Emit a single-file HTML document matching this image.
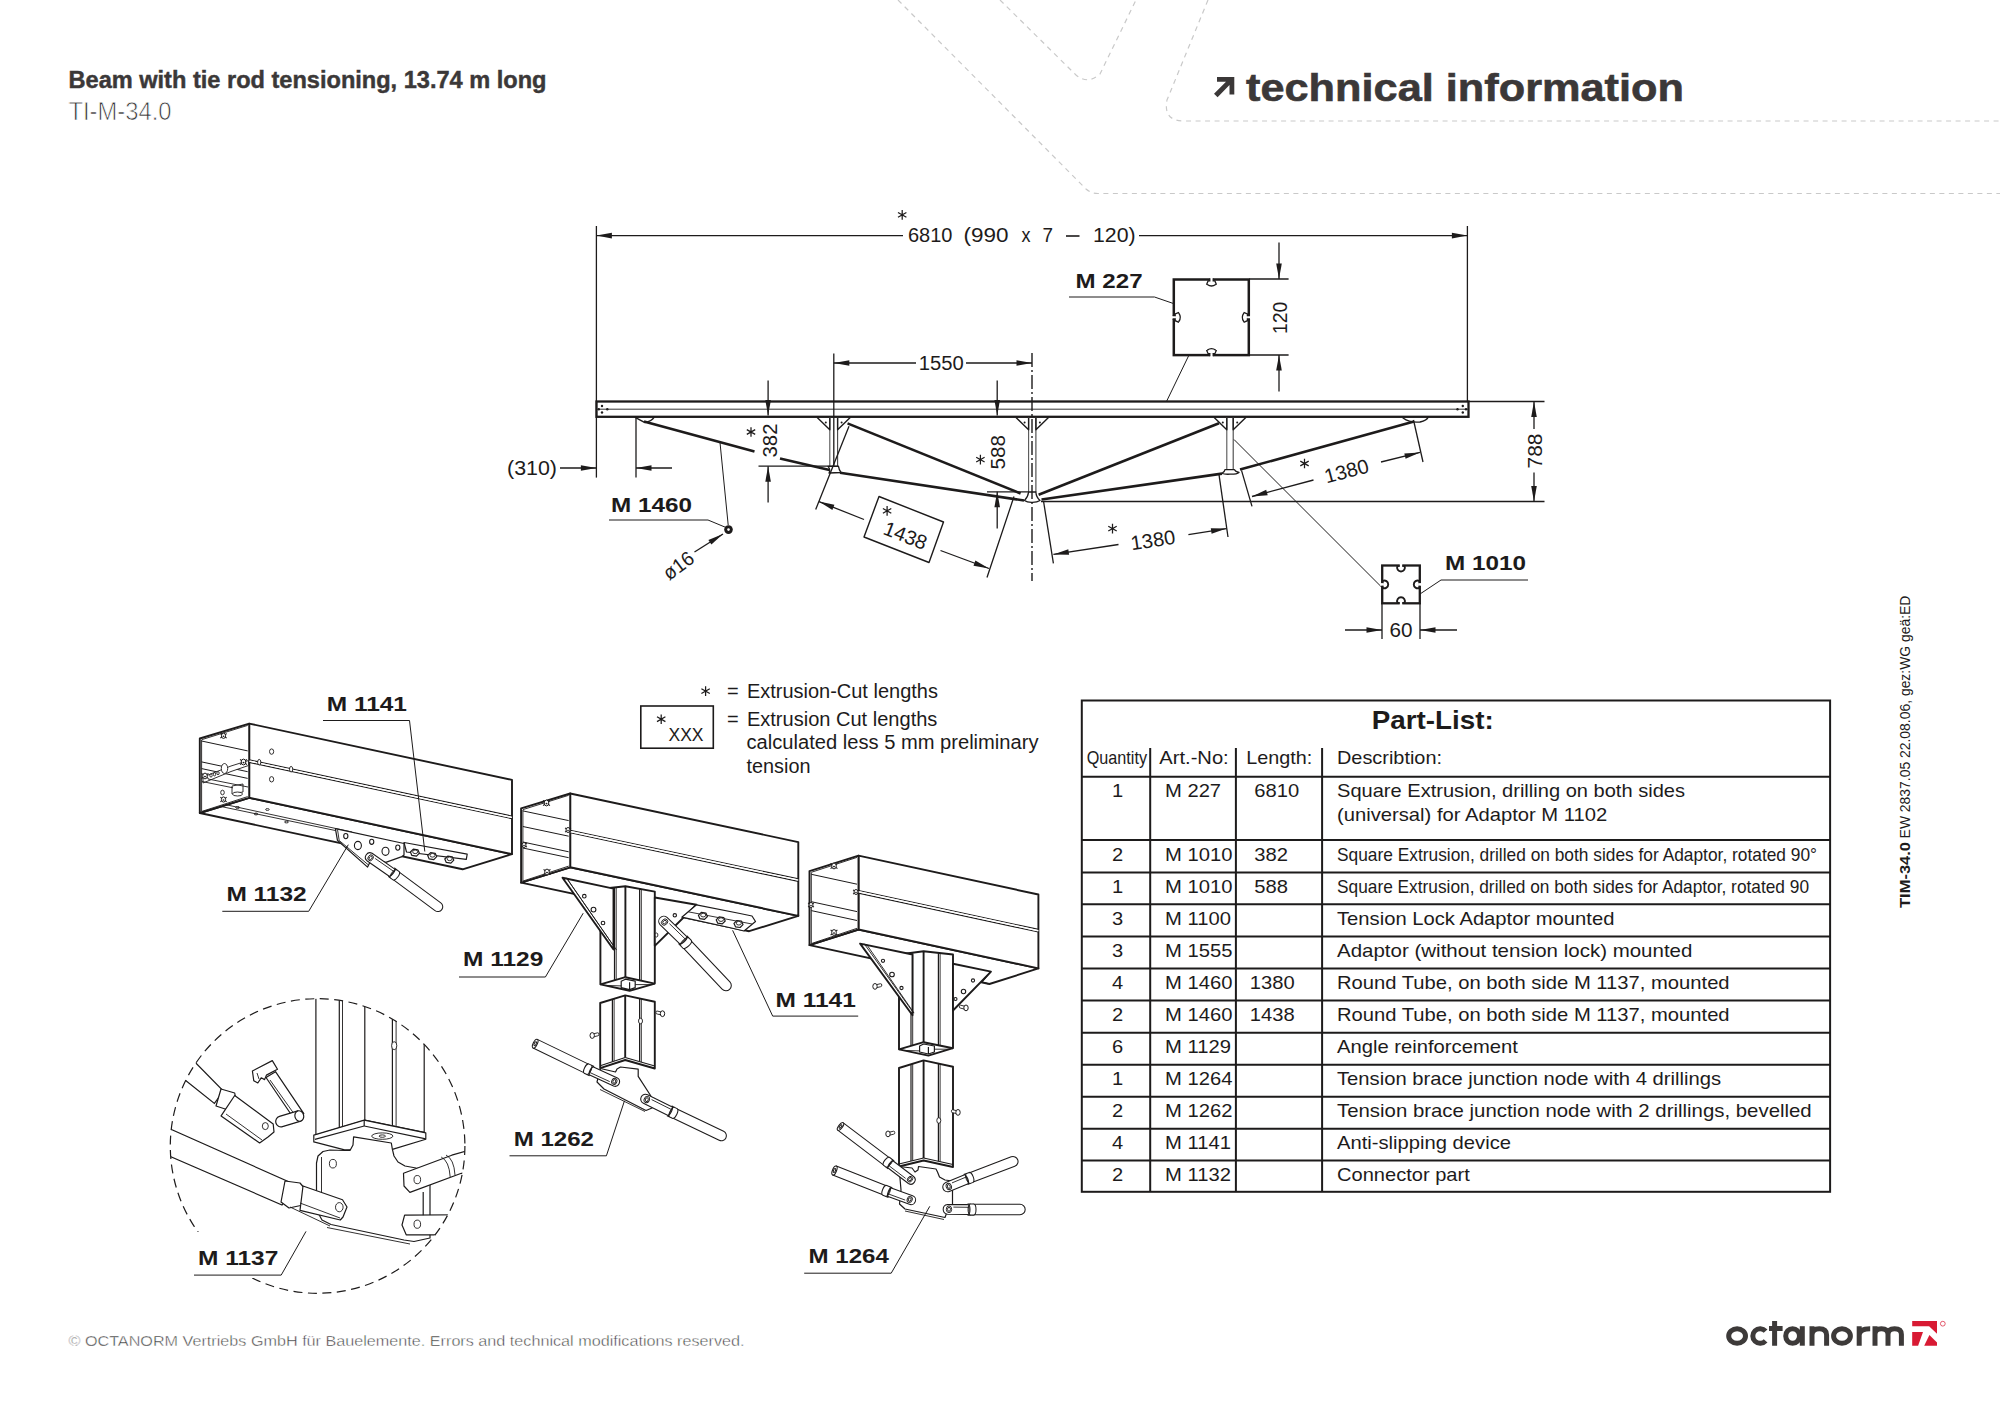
<!DOCTYPE html>
<html><head><meta charset="utf-8"><title>Beam with tie rod tensioning</title>
<style>
html,body{margin:0;padding:0;background:#fff;}
body{width:2000px;height:1413px;overflow:hidden;position:relative;font-family:"Liberation Sans",sans-serif;}
svg{position:absolute;left:0;top:0;}
</style></head>
<body>
<svg width="2000" height="1413" viewBox="0 0 2000 1413" font-family="Liberation Sans, sans-serif">
<!-- background dashed guide lines -->
<g fill="none" stroke="#c9c9c9" stroke-width="1.2" stroke-dasharray="5 4.5">
<path d="M898 0 L1086 189 Q1091 193.5 1098 193.5 L2000 193.5"/>
<path d="M1000 0 L1076 75 Q1088 85 1100 74 L1136 0"/>
<path d="M1208 0 L1167 100 Q1163 121 1184 121 L2000 121"/>
</g>
<!-- header -->
<g fill="#3b3838">
<text x="68.5" y="87.5" font-size="24" font-weight="bold" stroke="#3b3838" stroke-width="0.45" textLength="478" lengthAdjust="spacingAndGlyphs">Beam with tie rod tensioning, 13.74 m long</text>
</g>
<text x="68.5" y="120" font-size="25" fill="#333" stroke="#fff" stroke-width="0.75" textLength="103" lengthAdjust="spacingAndGlyphs">TI-M-34.0</text>
<g fill="#3b3838">
<text x="1246" y="100.5" font-size="39" font-weight="bold" stroke="#3b3838" stroke-width="0.6" textLength="438" lengthAdjust="spacingAndGlyphs">technical information</text>
<path d="M1217 77 L1234.3 77 L1234.3 94.5 L1229.5 94.5 L1229.5 85 L1217.6 97.3 L1214 93.8 L1226 81.8 L1217 81.8 Z"/>
</g>
<!-- footer -->
<text x="68.5" y="1345.8" font-size="15.5" fill="#3a3a3a" stroke="#fff" stroke-width="0.45" textLength="676" lengthAdjust="spacingAndGlyphs">© OCTANORM Vertriebs GmbH für Bauelemente. Errors and technical modifications reserved.</text>
<!-- logo -->
<g fill="none" stroke="#3d3a39" stroke-width="5">
<ellipse cx="1737.1" cy="1336" rx="8.4" ry="7.3"/>
<path d="M1765.6 1331.2 A7.3 7.3 0 1 0 1765.6 1340.8"/>
<path d="M1774.6 1321 V1345.7 M1769 1328.6 H1782.6"/>
<ellipse cx="1792.6" cy="1336" rx="6.9" ry="7.3"/>
<path d="M1802.3 1326.2 V1345.7"/>
<path d="M1812 1326.2 V1345.7 M1812 1335 Q1812 1328.7 1819.3 1328.7 Q1826.6 1328.7 1826.6 1335 V1345.7"/>
<ellipse cx="1842" cy="1336" rx="8.4" ry="7.3"/>
<path d="M1859.2 1326.2 V1345.7 M1859.2 1335 Q1859.5 1328.7 1870.2 1328.7"/>
<path d="M1875 1326.2 V1345.7 M1875 1334.5 Q1875 1328.7 1881.4 1328.7 Q1888 1328.7 1888 1334.5 V1345.7 M1888 1334.5 Q1888 1328.7 1894.6 1328.7 Q1901.4 1328.7 1901.4 1334.5 V1345.7"/>
</g>
<g fill="#d81a33">
<path d="M1912.2 1321 L1937 1321 L1937 1333.8 L1929.1 1326.2 L1912.2 1326.2 Z"/>
<path d="M1912.2 1332.1 L1923 1332.1 L1918.1 1345.7 L1912.2 1345.7 Z"/>
<path d="M1929.4 1335.1 L1937 1342.4 L1937 1345.7 L1924.2 1345.7 Z"/>
<circle cx="1942.8" cy="1323.7" r="2.4" fill="none" stroke="#d81a33" stroke-width="0.7"/>
</g>
<line x1="596.4" y1="226.0" x2="596.4" y2="477.6" stroke="#1d1b1b" stroke-width="1.3" />
<line x1="1467.4" y1="226.0" x2="1467.4" y2="401.5" stroke="#1d1b1b" stroke-width="1.3" />
<line x1="903.0" y1="235.6" x2="596.4" y2="235.6" stroke="#1d1b1b" stroke-width="1.3" />
<path d="M596.4 235.6 L611.9 232.8 L611.9 238.4 Z" fill="#1d1b1b"/>
<line x1="1139.0" y1="235.6" x2="1467.4" y2="235.6" stroke="#1d1b1b" stroke-width="1.3" />
<path d="M1467.4 235.6 L1451.9 238.4 L1451.9 232.8 Z" fill="#1d1b1b"/>
<text x="907.9" y="242.0" font-size="20" text-anchor="start" textLength="44.5" lengthAdjust="spacingAndGlyphs" fill="#1d1b1b" >6810</text>
<text x="963.6" y="242.0" font-size="20" text-anchor="start" textLength="45.0" lengthAdjust="spacingAndGlyphs" fill="#1d1b1b" >(990</text>
<text x="1021.5" y="242.0" font-size="20" text-anchor="start" textLength="9.0" lengthAdjust="spacingAndGlyphs" fill="#1d1b1b" >x</text>
<text x="1042.5" y="242.0" font-size="20" text-anchor="start" textLength="10.5" lengthAdjust="spacingAndGlyphs" fill="#1d1b1b" >7</text>
<line x1="1066.0" y1="236.0" x2="1079.5" y2="236.0" stroke="#1d1b1b" stroke-width="1.6" />
<text x="1093.0" y="242.0" font-size="20" text-anchor="start" textLength="42.6" lengthAdjust="spacingAndGlyphs" fill="#1d1b1b" >120)</text>
<path d="M902.2 210.1 V219.7 M898.0 212.5 L906.4 217.3 M898.0 217.3 L906.4 212.5" stroke="#1d1b1b" stroke-width="1.25" fill="none"/>
<rect x="596.5" y="401.5" width="872" height="15.3" fill="none" stroke="#1d1b1b" stroke-width="2.3"/>
<line x1="597.0" y1="409.2" x2="1468.0" y2="409.2" stroke="#333" stroke-width="1.0" />
<circle cx="602" cy="406" r="1.2" fill="#1d1b1b"/>
<circle cx="602" cy="412.5" r="1.2" fill="#1d1b1b"/>
<circle cx="598.8" cy="409.2" r="1.2" fill="#1d1b1b"/>
<circle cx="607.3" cy="409.2" r="1.2" fill="#1d1b1b"/>
<circle cx="1462.8" cy="406" r="1.2" fill="#1d1b1b"/>
<circle cx="1462.8" cy="412.5" r="1.2" fill="#1d1b1b"/>
<circle cx="1466" cy="409.2" r="1.2" fill="#1d1b1b"/>
<circle cx="1457.5" cy="409.2" r="1.2" fill="#1d1b1b"/>
<line x1="829.8" y1="417.0" x2="829.8" y2="466.0" stroke="#555" stroke-width="1.1" />
<line x1="837.6" y1="417.0" x2="837.6" y2="466.0" stroke="#444" stroke-width="1.1" />
<path d="M817.2 417.5 L829.8 429.8 L829.8 417.5" fill="none" stroke="#1d1b1b" stroke-width="1.4" stroke-linejoin="round" />
<path d="M850.2 417.5 L837.6 429.8 L837.6 417.5" fill="none" stroke="#1d1b1b" stroke-width="1.4" stroke-linejoin="round" />
<circle cx="825.8" cy="422.5" r="1" fill="#1d1b1b"/>
<circle cx="841.6" cy="422.5" r="1" fill="#1d1b1b"/>
<line x1="1028.6" y1="417.0" x2="1028.6" y2="492.0" stroke="#555" stroke-width="1.1" />
<line x1="1035.9" y1="417.0" x2="1035.9" y2="492.0" stroke="#444" stroke-width="1.1" />
<path d="M1016.0 417.5 L1028.6 429.8 L1028.6 417.5" fill="none" stroke="#1d1b1b" stroke-width="1.4" stroke-linejoin="round" />
<path d="M1048.5 417.5 L1035.9 429.8 L1035.9 417.5" fill="none" stroke="#1d1b1b" stroke-width="1.4" stroke-linejoin="round" />
<circle cx="1024.6" cy="422.5" r="1" fill="#1d1b1b"/>
<circle cx="1039.9" cy="422.5" r="1" fill="#1d1b1b"/>
<line x1="1226.8" y1="417.0" x2="1226.8" y2="469.5" stroke="#555" stroke-width="1.1" />
<line x1="1233.2" y1="417.0" x2="1233.2" y2="469.5" stroke="#444" stroke-width="1.1" />
<path d="M1214.2 417.5 L1226.8 429.8 L1226.8 417.5" fill="none" stroke="#1d1b1b" stroke-width="1.4" stroke-linejoin="round" />
<path d="M1245.8 417.5 L1233.2 429.8 L1233.2 417.5" fill="none" stroke="#1d1b1b" stroke-width="1.4" stroke-linejoin="round" />
<circle cx="1222.8" cy="422.5" r="1" fill="#1d1b1b"/>
<circle cx="1237.2" cy="422.5" r="1" fill="#1d1b1b"/>
<line x1="833.8" y1="353.5" x2="833.8" y2="466.0" stroke="#1d1b1b" stroke-width="1.3" />
<line x1="1032" y1="353" x2="1032" y2="581" stroke="#1d1b1b" stroke-width="1.4" stroke-dasharray="14 3 2 3"/>
<line x1="916.0" y1="363.0" x2="833.8" y2="363.0" stroke="#1d1b1b" stroke-width="1.3" />
<path d="M833.8 363.0 L849.3 360.2 L849.3 365.8 Z" fill="#1d1b1b"/>
<line x1="966.0" y1="363.0" x2="1032.0" y2="363.0" stroke="#1d1b1b" stroke-width="1.3" />
<path d="M1032.0 363.0 L1016.5 365.8 L1016.5 360.2 Z" fill="#1d1b1b"/>
<text x="941.2" y="370.0" font-size="20" text-anchor="middle" textLength="45.0" lengthAdjust="spacingAndGlyphs" fill="#1d1b1b" >1550</text>
<line x1="644.0" y1="421.5" x2="754.5" y2="451.6" stroke="#1d1b1b" stroke-width="2.6" />
<line x1="780.0" y1="458.6" x2="829.5" y2="470.0" stroke="#1d1b1b" stroke-width="2.6" />
<line x1="847.5" y1="423.4" x2="1020.6" y2="493.5" stroke="#1d1b1b" stroke-width="2.6" />
<line x1="840.0" y1="472.8" x2="1024.0" y2="500.5" stroke="#1d1b1b" stroke-width="2.6" />
<line x1="1038.6" y1="494.8" x2="1219.0" y2="423.3" stroke="#1d1b1b" stroke-width="2.6" />
<line x1="1041.5" y1="499.5" x2="1222.0" y2="473.6" stroke="#1d1b1b" stroke-width="2.6" />
<line x1="1240.0" y1="469.6" x2="1414.0" y2="421.6" stroke="#1d1b1b" stroke-width="2.6" />
<path d="M635.3 417.3 Q640 420 645 422.6 Q652 421 654 417.4" fill="none" stroke="#1d1b1b" stroke-width="1.4" stroke-linejoin="round" stroke-linecap="round" />
<line x1="636.0" y1="417.0" x2="636.0" y2="477.6" stroke="#1d1b1b" stroke-width="1.3" />
<path d="M1403 418 Q1410 423 1420 422 Q1427 420 1428 417.4" fill="none" stroke="#1d1b1b" stroke-width="1.4" stroke-linejoin="round" stroke-linecap="round" />
<path d="M828 466.3 L838.5 466.3 Q839 470 841 472.5 L829 473 Q831 470 828 466.3 Z" fill="none" stroke="#1d1b1b" stroke-width="1.3" stroke-linejoin="round" stroke-linecap="round" />
<path d="M1028.6 492 L1035.9 492 Q1036 497 1040 500.5 Q1037 502.5 1032 502.4 Q1027 502.5 1024.5 500.5 Q1028 497 1028.6 492 Z" fill="none" stroke="#1d1b1b" stroke-width="1.3" stroke-linejoin="round" stroke-linecap="round" />
<path d="M1225 469.6 L1234.5 469.6 Q1235 471.5 1239 472.5 Q1237 474.3 1230 474.2 Q1224 474.5 1222 473.3 Q1225 471.5 1225 469.6 Z" fill="none" stroke="#1d1b1b" stroke-width="1.3" stroke-linejoin="round" stroke-linecap="round" />
<line x1="768.1" y1="380.6" x2="768.1" y2="415.5" stroke="#1d1b1b" stroke-width="1.3" />
<path d="M768.1 415.5 L765.3 400.0 L770.9 400.0 Z" fill="#1d1b1b"/>
<line x1="758.5" y1="466.2" x2="838.5" y2="466.2" stroke="#1d1b1b" stroke-width="1.3" />
<line x1="768.1" y1="502.5" x2="768.1" y2="466.2" stroke="#1d1b1b" stroke-width="1.3" />
<path d="M768.1 466.2 L770.9 481.7 L765.3 481.7 Z" fill="#1d1b1b"/>
<text x="777.0" y="440.5" font-size="20" text-anchor="middle" textLength="34.0" lengthAdjust="spacingAndGlyphs" transform="rotate(-90.00 777.0 440.5)" fill="#1d1b1b" >382</text>
<path d="M751.0 427.2 V436.8 M746.8 429.6 L755.2 434.4 M746.8 434.4 L755.2 429.6" stroke="#1d1b1b" stroke-width="1.25" fill="none"/>
<line x1="997.2" y1="380.6" x2="997.2" y2="415.5" stroke="#1d1b1b" stroke-width="1.3" />
<path d="M997.2 415.5 L994.4 400.0 L1000.0 400.0 Z" fill="#1d1b1b"/>
<line x1="987.0" y1="491.8" x2="1028.6" y2="491.8" stroke="#1d1b1b" stroke-width="1.3" />
<line x1="997.2" y1="528.5" x2="997.2" y2="491.8" stroke="#1d1b1b" stroke-width="1.3" />
<path d="M997.2 491.8 L1000.0 507.3 L994.4 507.3 Z" fill="#1d1b1b"/>
<text x="1005.0" y="452.3" font-size="20" text-anchor="middle" textLength="34.5" lengthAdjust="spacingAndGlyphs" transform="rotate(-90.00 1005.0 452.3)" fill="#1d1b1b" >588</text>
<path d="M980.4 454.8 V464.4 M976.2 457.2 L984.6 462.0 M976.2 462.0 L984.6 457.2" stroke="#1d1b1b" stroke-width="1.25" fill="none"/>
<line x1="1468.0" y1="401.5" x2="1544.5" y2="401.5" stroke="#1d1b1b" stroke-width="1.3" />
<line x1="1041.0" y1="501.5" x2="1544.5" y2="501.5" stroke="#1d1b1b" stroke-width="1.3" />
<line x1="1534.0" y1="429.0" x2="1534.0" y2="401.5" stroke="#1d1b1b" stroke-width="1.3" />
<path d="M1534.0 401.5 L1536.8 417.0 L1531.2 417.0 Z" fill="#1d1b1b"/>
<line x1="1534.0" y1="472.5" x2="1534.0" y2="501.5" stroke="#1d1b1b" stroke-width="1.3" />
<path d="M1534.0 501.5 L1531.2 486.0 L1536.8 486.0 Z" fill="#1d1b1b"/>
<text x="1542.4" y="451.0" font-size="20" text-anchor="middle" textLength="35.0" lengthAdjust="spacingAndGlyphs" transform="rotate(-90.00 1542.4 451.0)" fill="#1d1b1b" >788</text>
<line x1="560.0" y1="468.0" x2="596.4" y2="468.0" stroke="#1d1b1b" stroke-width="1.3" />
<path d="M596.4 468.0 L580.9 470.8 L580.9 465.2 Z" fill="#1d1b1b"/>
<line x1="672.0" y1="468.0" x2="636.0" y2="468.0" stroke="#1d1b1b" stroke-width="1.3" />
<path d="M636.0 468.0 L651.5 465.2 L651.5 470.8 Z" fill="#1d1b1b"/>
<text x="557.0" y="474.5" font-size="20" text-anchor="end" textLength="50.0" lengthAdjust="spacingAndGlyphs" fill="#1d1b1b" >(310)</text>
<rect x="1173.8" y="279.5" width="75" height="75.6" fill="none" stroke="#1d1b1b" stroke-width="2.5"/>
<g transform="translate(1211.5 279.5) rotate(0)"><rect x="-1.7" y="-2" width="3.4" height="3.6" fill="#fff"/><path d="M-1.7 -1.2 V1.4 H-3.4 L-5 5.2 M1.7 -1.2 V1.4 H3.4 L5 5.2 M-4.2 5 Q0 8 4.2 5" fill="none" stroke="#1d1b1b" stroke-width="1.3"/></g>
<g transform="translate(1211.5 355.1) rotate(180)"><rect x="-1.7" y="-2" width="3.4" height="3.6" fill="#fff"/><path d="M-1.7 -1.2 V1.4 H-3.4 L-5 5.2 M1.7 -1.2 V1.4 H3.4 L5 5.2 M-4.2 5 Q0 8 4.2 5" fill="none" stroke="#1d1b1b" stroke-width="1.3"/></g>
<g transform="translate(1173.8 317.3) rotate(-90)"><rect x="-1.7" y="-2" width="3.4" height="3.6" fill="#fff"/><path d="M-1.7 -1.2 V1.4 H-3.4 L-5 5.2 M1.7 -1.2 V1.4 H3.4 L5 5.2 M-4.2 5 Q0 8 4.2 5" fill="none" stroke="#1d1b1b" stroke-width="1.3"/></g>
<g transform="translate(1248.8 317.3) rotate(90)"><rect x="-1.7" y="-2" width="3.4" height="3.6" fill="#fff"/><path d="M-1.7 -1.2 V1.4 H-3.4 L-5 5.2 M1.7 -1.2 V1.4 H3.4 L5 5.2 M-4.2 5 Q0 8 4.2 5" fill="none" stroke="#1d1b1b" stroke-width="1.3"/></g>
<text x="1075.6" y="287.5" font-size="21" font-weight="bold" text-anchor="start" textLength="67.0" lengthAdjust="spacingAndGlyphs" fill="#1d1b1b" >M 227</text>
<path d="M1069.0 297.0 L1154.5 297.0 L1173.4 303.5" fill="none" stroke="#1d1b1b" stroke-width="1.0" stroke-linejoin="round" />
<line x1="1189.0" y1="355.0" x2="1166.5" y2="401.5" stroke="#1d1b1b" stroke-width="1.0" />
<line x1="1249.2" y1="279.0" x2="1288.6" y2="279.0" stroke="#1d1b1b" stroke-width="1.3" />
<line x1="1249.2" y1="355.0" x2="1288.6" y2="355.0" stroke="#1d1b1b" stroke-width="1.3" />
<line x1="1279.0" y1="242.5" x2="1279.0" y2="279.0" stroke="#1d1b1b" stroke-width="1.3" />
<path d="M1279.0 279.0 L1276.2 263.5 L1281.8 263.5 Z" fill="#1d1b1b"/>
<line x1="1279.0" y1="391.6" x2="1279.0" y2="355.0" stroke="#1d1b1b" stroke-width="1.3" />
<path d="M1279.0 355.0 L1281.8 370.5 L1276.2 370.5 Z" fill="#1d1b1b"/>
<text x="1287.4" y="317.8" font-size="20" text-anchor="middle" textLength="32.5" lengthAdjust="spacingAndGlyphs" transform="rotate(-90.00 1287.4 317.8)" fill="#1d1b1b" >120</text>
<text x="611.0" y="511.5" font-size="21" font-weight="bold" text-anchor="start" textLength="81.0" lengthAdjust="spacingAndGlyphs" fill="#1d1b1b" >M 1460</text>
<path d="M609.0 520.0 L708.0 520.0 L726.0 527.5" fill="none" stroke="#1d1b1b" stroke-width="1.0" stroke-linejoin="round" />
<line x1="720.0" y1="442.5" x2="728.2" y2="525.0" stroke="#1d1b1b" stroke-width="1.0" />
<circle cx="728.5" cy="529.6" r="4.3" fill="#1d1b1b"/>
<circle cx="728.5" cy="529.6" r="1.3" fill="#fff"/>
<line x1="694.5" y1="552.0" x2="723.0" y2="534.0" stroke="#1d1b1b" stroke-width="1.3" />
<path d="M723.0 534.0 L711.4 544.6 L708.4 539.9 Z" fill="#1d1b1b"/>
<text x="682.5" y="571.0" font-size="20" text-anchor="middle" textLength="33.0" lengthAdjust="spacingAndGlyphs" transform="rotate(-37.00 682.5 571.0)" fill="#1d1b1b" >ø16</text>
<line x1="849.0" y1="426.2" x2="815.7" y2="509.5" stroke="#1d1b1b" stroke-width="1.3" />
<line x1="1014.0" y1="496.5" x2="987.0" y2="577.5" stroke="#1d1b1b" stroke-width="1.3" />
<line x1="864.0" y1="519.5" x2="819.0" y2="501.6" stroke="#1d1b1b" stroke-width="1.3" />
<path d="M819.0 501.6 L834.4 504.7 L832.4 509.9 Z" fill="#1d1b1b"/>
<line x1="940.5" y1="550.5" x2="989.0" y2="568.5" stroke="#1d1b1b" stroke-width="1.3" />
<path d="M989.0 568.5 L973.5 565.7 L975.4 560.5 Z" fill="#1d1b1b"/>
<path d="M879.0 496.5 L943.5 522.0 L929.0 562.5 L864.0 537.0 Z" fill="none" stroke="#1d1b1b" stroke-width="1.4" stroke-linejoin="round" />
<text x="902.9" y="542.0" font-size="20" text-anchor="middle" textLength="45.0" lengthAdjust="spacingAndGlyphs" transform="rotate(21.50 902.9 542.0)" fill="#1d1b1b" >1438</text>
<path d="M887.1 506.1 V515.7 M882.9 508.5 L891.3 513.3 M882.9 513.3 L891.3 508.5" stroke="#1d1b1b" stroke-width="1.25" fill="none"/>
<line x1="1043.5" y1="501.0" x2="1053.4" y2="563.4" stroke="#1d1b1b" stroke-width="1.3" />
<line x1="1219.0" y1="474.6" x2="1228.0" y2="537.0" stroke="#1d1b1b" stroke-width="1.3" />
<line x1="1118.5" y1="544.5" x2="1053.4" y2="554.4" stroke="#1d1b1b" stroke-width="1.3" />
<path d="M1053.4 554.4 L1068.3 549.3 L1069.1 554.8 Z" fill="#1d1b1b"/>
<line x1="1188.4" y1="534.6" x2="1226.5" y2="528.6" stroke="#1d1b1b" stroke-width="1.3" />
<path d="M1226.5 528.6 L1211.6 533.8 L1210.8 528.2 Z" fill="#1d1b1b"/>
<text x="1154.0" y="547.0" font-size="20" text-anchor="middle" textLength="45.0" lengthAdjust="spacingAndGlyphs" transform="rotate(-8.50 1154.0 547.0)" fill="#1d1b1b" >1380</text>
<path d="M1112.5 523.8 V533.4 M1108.3 526.2 L1116.7 531.0 M1108.3 531.0 L1116.7 526.2" stroke="#1d1b1b" stroke-width="1.25" fill="none"/>
<line x1="1241.5" y1="470.4" x2="1252.0" y2="506.4" stroke="#1d1b1b" stroke-width="1.3" />
<line x1="1413.5" y1="420.0" x2="1423.0" y2="462.0" stroke="#1d1b1b" stroke-width="1.3" />
<line x1="1313.5" y1="480.0" x2="1252.0" y2="496.5" stroke="#1d1b1b" stroke-width="1.3" />
<path d="M1252.0 496.5 L1266.2 489.8 L1267.7 495.2 Z" fill="#1d1b1b"/>
<line x1="1381.0" y1="462.0" x2="1420.0" y2="452.4" stroke="#1d1b1b" stroke-width="1.3" />
<path d="M1420.0 452.4 L1405.6 458.8 L1404.3 453.4 Z" fill="#1d1b1b"/>
<text x="1348.3" y="477.8" font-size="20" text-anchor="middle" textLength="45.0" lengthAdjust="spacingAndGlyphs" transform="rotate(-15.00 1348.3 477.8)" fill="#1d1b1b" >1380</text>
<path d="M1304.5 458.7 V468.3 M1300.3 461.1 L1308.7 465.9 M1300.3 465.9 L1308.7 461.1" stroke="#1d1b1b" stroke-width="1.25" fill="none"/>
<line x1="1234.0" y1="439.5" x2="1382.5" y2="588.0" stroke="#1d1b1b" stroke-width="1.0" />
<rect x="1382.2" y="565.5" width="37.6" height="37.8" fill="none" stroke="#1d1b1b" stroke-width="2.3"/>
<g transform="translate(1401 565.5) rotate(0)"><rect x="-1.3" y="-2" width="2.6" height="3.6" fill="#fff"/><path d="M-1.4 0.2 L-3.6 0.6 A3.9 3.9 0 1 0 3.6 0.6 L1.4 0.2" fill="none" stroke="#1d1b1b" stroke-width="1.9"/></g>
<g transform="translate(1401 603.3) rotate(180)"><rect x="-1.3" y="-2" width="2.6" height="3.6" fill="#fff"/><path d="M-1.4 0.2 L-3.6 0.6 A3.9 3.9 0 1 0 3.6 0.6 L1.4 0.2" fill="none" stroke="#1d1b1b" stroke-width="1.9"/></g>
<g transform="translate(1382.2 584.4) rotate(-90)"><rect x="-1.3" y="-2" width="2.6" height="3.6" fill="#fff"/><path d="M-1.4 0.2 L-3.6 0.6 A3.9 3.9 0 1 0 3.6 0.6 L1.4 0.2" fill="none" stroke="#1d1b1b" stroke-width="1.9"/></g>
<g transform="translate(1419.8 584.4) rotate(90)"><rect x="-1.3" y="-2" width="2.6" height="3.6" fill="#fff"/><path d="M-1.4 0.2 L-3.6 0.6 A3.9 3.9 0 1 0 3.6 0.6 L1.4 0.2" fill="none" stroke="#1d1b1b" stroke-width="1.9"/></g>
<text x="1445.0" y="570.0" font-size="21" font-weight="bold" text-anchor="start" textLength="81.0" lengthAdjust="spacingAndGlyphs" fill="#1d1b1b" >M 1010</text>
<path d="M1528.0 580.0 L1441.0 580.0 L1420.0 594.0" fill="none" stroke="#1d1b1b" stroke-width="1.0" stroke-linejoin="round" />
<line x1="1382.0" y1="603.0" x2="1382.0" y2="639.0" stroke="#1d1b1b" stroke-width="1.3" />
<line x1="1420.0" y1="603.0" x2="1420.0" y2="639.0" stroke="#1d1b1b" stroke-width="1.3" />
<line x1="1345.0" y1="630.0" x2="1382.0" y2="630.0" stroke="#1d1b1b" stroke-width="1.3" />
<path d="M1382.0 630.0 L1366.5 632.8 L1366.5 627.2 Z" fill="#1d1b1b"/>
<line x1="1457.0" y1="630.0" x2="1420.0" y2="630.0" stroke="#1d1b1b" stroke-width="1.3" />
<path d="M1420.0 630.0 L1435.5 627.2 L1435.5 632.8 Z" fill="#1d1b1b"/>
<text x="1401.0" y="637.0" font-size="20" text-anchor="middle" textLength="23.0" lengthAdjust="spacingAndGlyphs" fill="#1d1b1b" >60</text>
<path d="M705.6 686.3 V695.9 M701.4 688.7 L709.8 693.5 M701.4 693.5 L709.8 688.7" stroke="#1d1b1b" stroke-width="1.25" fill="none"/>
<text x="727.0" y="697.6" font-size="20" text-anchor="start" fill="#1d1b1b" >=</text>
<text x="746.9" y="697.6" font-size="20" text-anchor="start" textLength="191.0" lengthAdjust="spacingAndGlyphs" fill="#1d1b1b" >Extrusion-Cut lengths</text>
<rect x="640.8" y="706" width="72.5" height="42.2" fill="none" stroke="#1d1b1b" stroke-width="1.6"/>
<path d="M661.2 714.4 V724.0 M657.0 716.8 L665.4 721.6 M657.0 721.6 L665.4 716.8" stroke="#1d1b1b" stroke-width="1.25" fill="none"/>
<text x="668.5" y="741.0" font-size="19" text-anchor="start" textLength="35.0" lengthAdjust="spacingAndGlyphs" fill="#1d1b1b" >XXX</text>
<text x="727.0" y="725.7" font-size="20" text-anchor="start" fill="#1d1b1b" >=</text>
<text x="746.9" y="725.7" font-size="20" text-anchor="start" textLength="190.5" lengthAdjust="spacingAndGlyphs" fill="#1d1b1b" >Extrusion Cut lengths</text>
<text x="746.5" y="748.7" font-size="20" text-anchor="start" textLength="292.0" lengthAdjust="spacingAndGlyphs" fill="#1d1b1b" >calculated less 5 mm preliminary</text>
<text x="746.5" y="772.5" font-size="20" text-anchor="start" textLength="64.0" lengthAdjust="spacingAndGlyphs" fill="#1d1b1b" >tension</text>
<rect x="1081.8" y="700.5" width="748.3" height="491.3" fill="none" stroke="#1d1b1b" stroke-width="2.0"/>
<line x1="1081.8" y1="776.8" x2="1830.1" y2="776.8" stroke="#1d1b1b" stroke-width="2.0" />
<line x1="1081.8" y1="840.1" x2="1830.1" y2="840.1" stroke="#1d1b1b" stroke-width="2.0" />
<line x1="1081.8" y1="872.4" x2="1830.1" y2="872.4" stroke="#1d1b1b" stroke-width="2.0" />
<line x1="1081.8" y1="904.3" x2="1830.1" y2="904.3" stroke="#1d1b1b" stroke-width="2.0" />
<line x1="1081.8" y1="936.4" x2="1830.1" y2="936.4" stroke="#1d1b1b" stroke-width="2.0" />
<line x1="1081.8" y1="968.5" x2="1830.1" y2="968.5" stroke="#1d1b1b" stroke-width="2.0" />
<line x1="1081.8" y1="1000.5" x2="1830.1" y2="1000.5" stroke="#1d1b1b" stroke-width="2.0" />
<line x1="1081.8" y1="1032.8" x2="1830.1" y2="1032.8" stroke="#1d1b1b" stroke-width="2.0" />
<line x1="1081.8" y1="1064.8" x2="1830.1" y2="1064.8" stroke="#1d1b1b" stroke-width="2.0" />
<line x1="1081.8" y1="1096.7" x2="1830.1" y2="1096.7" stroke="#1d1b1b" stroke-width="2.0" />
<line x1="1081.8" y1="1128.7" x2="1830.1" y2="1128.7" stroke="#1d1b1b" stroke-width="2.0" />
<line x1="1081.8" y1="1160.6" x2="1830.1" y2="1160.6" stroke="#1d1b1b" stroke-width="2.0" />
<line x1="1150.2" y1="748.0" x2="1150.2" y2="1191.8" stroke="#1d1b1b" stroke-width="2.0" />
<line x1="1235.9" y1="748.0" x2="1235.9" y2="1191.8" stroke="#1d1b1b" stroke-width="2.0" />
<line x1="1322.1" y1="748.0" x2="1322.1" y2="1191.8" stroke="#1d1b1b" stroke-width="2.0" />
<text x="1432.8" y="729.0" font-size="25" font-weight="bold" text-anchor="middle" textLength="122.0" lengthAdjust="spacingAndGlyphs" fill="#1d1b1b" >Part-List:</text>
<text x="1086.7" y="764.1" font-size="19" text-anchor="start" textLength="60.3" lengthAdjust="spacingAndGlyphs" fill="#1d1b1b" >Quantity</text>
<text x="1159.3" y="764.1" font-size="19" text-anchor="start" textLength="69.4" lengthAdjust="spacingAndGlyphs" fill="#1d1b1b" >Art.-No:</text>
<text x="1246.3" y="764.1" font-size="19" text-anchor="start" textLength="66.0" lengthAdjust="spacingAndGlyphs" fill="#1d1b1b" >Length:</text>
<text x="1337.0" y="764.1" font-size="19" text-anchor="start" textLength="105.0" lengthAdjust="spacingAndGlyphs" fill="#1d1b1b" >Describtion:</text>
<text x="1117.5" y="797.4" font-size="19" text-anchor="middle" textLength="11.2" lengthAdjust="spacingAndGlyphs" fill="#1d1b1b" >1</text>
<text x="1165.0" y="797.4" font-size="19" text-anchor="start" textLength="56.1" lengthAdjust="spacingAndGlyphs" fill="#1d1b1b" >M 227</text>
<text x="1254.3" y="797.4" font-size="19" text-anchor="start" textLength="44.9" lengthAdjust="spacingAndGlyphs" fill="#1d1b1b" >6810</text>
<text x="1337.0" y="797.4" font-size="19" text-anchor="start" textLength="348.0" lengthAdjust="spacingAndGlyphs" fill="#1d1b1b" >Square Extrusion, drilling on both sides</text>
<text x="1117.5" y="861.0" font-size="19" text-anchor="middle" textLength="11.2" lengthAdjust="spacingAndGlyphs" fill="#1d1b1b" >2</text>
<text x="1165.0" y="861.0" font-size="19" text-anchor="start" textLength="67.4" lengthAdjust="spacingAndGlyphs" fill="#1d1b1b" >M 1010</text>
<text x="1254.3" y="861.0" font-size="19" text-anchor="start" textLength="33.7" lengthAdjust="spacingAndGlyphs" fill="#1d1b1b" >382</text>
<text x="1337.0" y="861.0" font-size="19" text-anchor="start" textLength="480.0" lengthAdjust="spacingAndGlyphs" fill="#1d1b1b" >Square Extrusion, drilled on both sides for Adaptor, rotated 90°</text>
<text x="1117.5" y="893.0" font-size="19" text-anchor="middle" textLength="11.2" lengthAdjust="spacingAndGlyphs" fill="#1d1b1b" >1</text>
<text x="1165.0" y="893.0" font-size="19" text-anchor="start" textLength="67.4" lengthAdjust="spacingAndGlyphs" fill="#1d1b1b" >M 1010</text>
<text x="1254.3" y="893.0" font-size="19" text-anchor="start" textLength="33.7" lengthAdjust="spacingAndGlyphs" fill="#1d1b1b" >588</text>
<text x="1337.0" y="893.0" font-size="19" text-anchor="start" textLength="472.0" lengthAdjust="spacingAndGlyphs" fill="#1d1b1b" >Square Extrusion, drilled on both sides for Adaptor, rotated 90</text>
<text x="1117.5" y="925.0" font-size="19" text-anchor="middle" textLength="11.2" lengthAdjust="spacingAndGlyphs" fill="#1d1b1b" >3</text>
<text x="1165.0" y="925.0" font-size="19" text-anchor="start" textLength="65.9" lengthAdjust="spacingAndGlyphs" fill="#1d1b1b" >M 1100</text>
<text x="1337.0" y="925.0" font-size="19" text-anchor="start" textLength="277.4" lengthAdjust="spacingAndGlyphs" fill="#1d1b1b" >Tension Lock Adaptor mounted</text>
<text x="1117.5" y="957.0" font-size="19" text-anchor="middle" textLength="11.2" lengthAdjust="spacingAndGlyphs" fill="#1d1b1b" >3</text>
<text x="1165.0" y="957.0" font-size="19" text-anchor="start" textLength="67.4" lengthAdjust="spacingAndGlyphs" fill="#1d1b1b" >M 1555</text>
<text x="1337.0" y="957.0" font-size="19" text-anchor="start" textLength="355.4" lengthAdjust="spacingAndGlyphs" fill="#1d1b1b" >Adaptor (without tension lock) mounted</text>
<text x="1117.5" y="989.0" font-size="19" text-anchor="middle" textLength="11.2" lengthAdjust="spacingAndGlyphs" fill="#1d1b1b" >4</text>
<text x="1165.0" y="989.0" font-size="19" text-anchor="start" textLength="67.4" lengthAdjust="spacingAndGlyphs" fill="#1d1b1b" >M 1460</text>
<text x="1249.8" y="989.0" font-size="19" text-anchor="start" textLength="44.9" lengthAdjust="spacingAndGlyphs" fill="#1d1b1b" >1380</text>
<text x="1337.0" y="989.0" font-size="19" text-anchor="start" textLength="392.6" lengthAdjust="spacingAndGlyphs" fill="#1d1b1b" >Round Tube, on both side M 1137, mounted</text>
<text x="1117.5" y="1021.0" font-size="19" text-anchor="middle" textLength="11.2" lengthAdjust="spacingAndGlyphs" fill="#1d1b1b" >2</text>
<text x="1165.0" y="1021.0" font-size="19" text-anchor="start" textLength="67.4" lengthAdjust="spacingAndGlyphs" fill="#1d1b1b" >M 1460</text>
<text x="1249.8" y="1021.0" font-size="19" text-anchor="start" textLength="44.9" lengthAdjust="spacingAndGlyphs" fill="#1d1b1b" >1438</text>
<text x="1337.0" y="1021.0" font-size="19" text-anchor="start" textLength="392.6" lengthAdjust="spacingAndGlyphs" fill="#1d1b1b" >Round Tube, on both side M 1137, mounted</text>
<text x="1117.5" y="1053.2" font-size="19" text-anchor="middle" textLength="11.2" lengthAdjust="spacingAndGlyphs" fill="#1d1b1b" >6</text>
<text x="1165.0" y="1053.2" font-size="19" text-anchor="start" textLength="65.9" lengthAdjust="spacingAndGlyphs" fill="#1d1b1b" >M 1129</text>
<text x="1337.0" y="1053.2" font-size="19" text-anchor="start" textLength="180.8" lengthAdjust="spacingAndGlyphs" fill="#1d1b1b" >Angle reinforcement</text>
<text x="1117.5" y="1085.2" font-size="19" text-anchor="middle" textLength="11.2" lengthAdjust="spacingAndGlyphs" fill="#1d1b1b" >1</text>
<text x="1165.0" y="1085.2" font-size="19" text-anchor="start" textLength="67.4" lengthAdjust="spacingAndGlyphs" fill="#1d1b1b" >M 1264</text>
<text x="1337.0" y="1085.2" font-size="19" text-anchor="start" textLength="384.0" lengthAdjust="spacingAndGlyphs" fill="#1d1b1b" >Tension brace junction node with 4 drillings</text>
<text x="1117.5" y="1117.2" font-size="19" text-anchor="middle" textLength="11.2" lengthAdjust="spacingAndGlyphs" fill="#1d1b1b" >2</text>
<text x="1165.0" y="1117.2" font-size="19" text-anchor="start" textLength="67.4" lengthAdjust="spacingAndGlyphs" fill="#1d1b1b" >M 1262</text>
<text x="1337.0" y="1117.2" font-size="19" text-anchor="start" textLength="474.7" lengthAdjust="spacingAndGlyphs" fill="#1d1b1b" >Tension brace junction node with 2 drillings, bevelled</text>
<text x="1117.5" y="1149.2" font-size="19" text-anchor="middle" textLength="11.2" lengthAdjust="spacingAndGlyphs" fill="#1d1b1b" >4</text>
<text x="1165.0" y="1149.2" font-size="19" text-anchor="start" textLength="65.9" lengthAdjust="spacingAndGlyphs" fill="#1d1b1b" >M 1141</text>
<text x="1337.0" y="1149.2" font-size="19" text-anchor="start" textLength="174.0" lengthAdjust="spacingAndGlyphs" fill="#1d1b1b" >Anti-slipping device</text>
<text x="1117.5" y="1181.2" font-size="19" text-anchor="middle" textLength="11.2" lengthAdjust="spacingAndGlyphs" fill="#1d1b1b" >2</text>
<text x="1165.0" y="1181.2" font-size="19" text-anchor="start" textLength="65.9" lengthAdjust="spacingAndGlyphs" fill="#1d1b1b" >M 1132</text>
<text x="1337.0" y="1181.2" font-size="19" text-anchor="start" textLength="132.8" lengthAdjust="spacingAndGlyphs" fill="#1d1b1b" >Connector part</text>
<text x="1337.0" y="821.1" font-size="19" text-anchor="start" textLength="270.2" lengthAdjust="spacingAndGlyphs" fill="#1d1b1b" >(universal) for Adaptor M 1102</text>
<text x="1910.0" y="908.0" font-size="15" font-weight="bold" text-anchor="start" textLength="66.0" lengthAdjust="spacingAndGlyphs" transform="rotate(-90.00 1910.0 908.0)" fill="#1d1b1b" >TIM-34.0</text>
<text x="1910.0" y="838.4" font-size="15" text-anchor="start" textLength="242.8" lengthAdjust="spacingAndGlyphs" transform="rotate(-90.00 1910.0 838.4)" fill="#1d1b1b" >EW 2837.05 22.08.06, gez:WG geä:ED</text>
<path d="M199.8 813.0 L249.2 797.8 L512.0 854.1 L462.6 869.3 Z" fill="#fff" stroke="#1d1b1b" stroke-width="1.9" stroke-linejoin="round" />
<path d="M249.2 723.6 L512.0 779.9 L512.0 854.1 L249.2 797.8 Z" fill="#fff" stroke="#1d1b1b" stroke-width="1.9" stroke-linejoin="round" />
<path d="M199.8 738.5 L249.2 723.6 L249.2 797.8 L199.8 813.0 Z" fill="#fff" stroke="#1d1b1b" stroke-width="1.9" stroke-linejoin="round" />
<line x1="201.6" y1="739.7" x2="247.7" y2="725.4" stroke="#1d1b1b" stroke-width="0.9" />
<line x1="201.6" y1="811.5" x2="247.7" y2="796.6" stroke="#1d1b1b" stroke-width="0.9" />
<line x1="201.6" y1="740.0" x2="201.6" y2="811.5" stroke="#1d1b1b" stroke-width="0.9" />
<line x1="249.2" y1="759.8" x2="512.0" y2="816.1" stroke="#1d1b1b" stroke-width="1.1" />
<line x1="249.2" y1="762.4" x2="512.0" y2="818.7" stroke="#1d1b1b" stroke-width="1.1" />
<line x1="249.2" y1="761.1" x2="512.0" y2="817.4" stroke="#fff" stroke-width="1.4"/>
<line x1="201.6" y1="741.0" x2="247.7" y2="750.9" stroke="#1d1b1b" stroke-width="1.0" />
<line x1="201.6" y1="761.9" x2="247.7" y2="771.7" stroke="#1d1b1b" stroke-width="1.0" />
<line x1="201.6" y1="768.6" x2="247.7" y2="778.4" stroke="#1d1b1b" stroke-width="1.0" />
<ellipse cx="271.6" cy="751.6" rx="2.1" ry="2.7" transform="rotate(0 271.6 751.6)" fill="#fff" stroke="#1d1b1b" stroke-width="0.9"/>
<ellipse cx="271.6" cy="779.3" rx="2.1" ry="2.7" transform="rotate(0 271.6 779.3)" fill="#fff" stroke="#1d1b1b" stroke-width="0.9"/>
<ellipse cx="259.2" cy="762.2" rx="1.6" ry="2.8" transform="rotate(0 259.2 762.2)" fill="#fff" stroke="#1d1b1b" stroke-width="0.9"/>
<ellipse cx="291.1" cy="769.2" rx="1.6" ry="2.8" transform="rotate(0 291.1 769.2)" fill="#fff" stroke="#1d1b1b" stroke-width="0.9"/>
<path d="M203.0 777.0 L231.0 766.0 L248.5 760.5 L248.5 765.5 L231.0 771.5 L203.0 783.0 Z" fill="#fff" stroke="#1d1b1b" stroke-width="0.9" stroke-linejoin="round" />
<ellipse cx="224.5" cy="768.5" rx="3.2" ry="5.0" transform="rotate(0 224.5 768.5)" fill="#fff" stroke="#1d1b1b" stroke-width="0.9"/>
<ellipse cx="205.0" cy="776.0" rx="2.3" ry="2.9" fill="#fff" stroke="#1d1b1b" stroke-width="1.0"/>
<path d="M201.6 773.4 l1.4 1.2 M208.4 773.4 l-1.4 1.2 M201.6 778.6 l1.4 -1.2 M208.4 778.6 l-1.4 -1.2" stroke="#1d1b1b" stroke-width="1.1"/>
<ellipse cx="205.0" cy="776.6" rx="1.0" ry="0.8" fill="#1d1b1b"/>
<ellipse cx="243.5" cy="762.0" rx="2.3" ry="2.9" fill="#fff" stroke="#1d1b1b" stroke-width="1.0"/>
<path d="M240.1 759.4 l1.4 1.2 M246.9 759.4 l-1.4 1.2 M240.1 764.6 l1.4 -1.2 M246.9 764.6 l-1.4 -1.2" stroke="#1d1b1b" stroke-width="1.1"/>
<ellipse cx="243.5" cy="762.6" rx="1.0" ry="0.8" fill="#1d1b1b"/>
<ellipse cx="211.0" cy="775.5" rx="1.2" ry="1.6" transform="rotate(0 211.0 775.5)" fill="#fff" stroke="#1d1b1b" stroke-width="0.9"/>
<ellipse cx="214.5" cy="774.3" rx="1.2" ry="1.6" transform="rotate(0 214.5 774.3)" fill="#fff" stroke="#1d1b1b" stroke-width="0.9"/>
<ellipse cx="218.0" cy="773.1" rx="1.2" ry="1.6" transform="rotate(0 218.0 773.1)" fill="#fff" stroke="#1d1b1b" stroke-width="0.9"/>
<path d="M232.0 786.0 L243.0 784.0 L243.0 792.0 L232.0 794.0 Z" fill="#fff" stroke="#1d1b1b" stroke-width="0.9" stroke-linejoin="round" />
<ellipse cx="237.5" cy="794.0" rx="5" ry="2" transform="rotate(0 237.5 794.0)" fill="#fff" stroke="#1d1b1b" stroke-width="0.9"/>
<line x1="202.0" y1="781.5" x2="233.0" y2="787.8" stroke="#1d1b1b" stroke-width="0.9" />
<line x1="208.0" y1="779.0" x2="248.0" y2="787.0" stroke="#1d1b1b" stroke-width="0.9" />
<ellipse cx="223.5" cy="735.8" rx="2.1" ry="2.6" fill="#fff" stroke="#1d1b1b" stroke-width="1.0"/>
<path d="M220.4 733.5 l1.3 1.1 M226.6 733.5 l-1.3 1.1 M220.4 738.1 l1.3 -1.1 M226.6 738.1 l-1.3 -1.1" stroke="#1d1b1b" stroke-width="1.1"/>
<ellipse cx="223.5" cy="736.3" rx="0.9" ry="0.7" fill="#1d1b1b"/>
<ellipse cx="223.5" cy="799.5" rx="2.1" ry="2.6" fill="#fff" stroke="#1d1b1b" stroke-width="1.0"/>
<path d="M220.4 797.2 l1.3 1.1 M226.6 797.2 l-1.3 1.1 M220.4 801.8 l1.3 -1.1 M226.6 801.8 l-1.3 -1.1" stroke="#1d1b1b" stroke-width="1.1"/>
<ellipse cx="223.5" cy="800.0" rx="0.9" ry="0.7" fill="#1d1b1b"/>
<ellipse cx="222.5" cy="792.5" rx="1.8" ry="2.3" transform="rotate(0 222.5 792.5)" fill="#fff" stroke="#1d1b1b" stroke-width="0.9"/>
<ellipse cx="237.6" cy="807.5" rx="2.0" ry="0.9" transform="rotate(0 237.6 807.5)" fill="#fff" stroke="#1d1b1b" stroke-width="0.9"/>
<ellipse cx="256.0" cy="814.0" rx="1.8" ry="0.9" transform="rotate(0 256.0 814.0)" fill="#fff" stroke="#1d1b1b" stroke-width="0.9"/>
<ellipse cx="267.4" cy="809.5" rx="1.8" ry="0.9" transform="rotate(0 267.4 809.5)" fill="#fff" stroke="#1d1b1b" stroke-width="0.9"/>
<ellipse cx="286.5" cy="822.0" rx="2.0" ry="0.9" transform="rotate(0 286.5 822.0)" fill="#fff" stroke="#1d1b1b" stroke-width="0.9"/>
<line x1="221.0" y1="806.5" x2="352.0" y2="834.0" stroke="#1d1b1b" stroke-width="0.9" />
<line x1="225.0" y1="804.5" x2="352.0" y2="832.0" stroke="#1d1b1b" stroke-width="0.9" />
<path d="M404.0 842.5 L467.2 854.2 L466.3 859.3 L406.5 852.0 Z" fill="#fff" stroke="#1d1b1b" stroke-width="1.2" stroke-linejoin="round" />
<path d="M419.4 853.2 L416.5 856.1 L411.9 855.4 L410.4 852.0 L413.3 849.1 L417.9 849.8 Z" fill="#fff" stroke="#1d1b1b" stroke-width="1.2" stroke-linejoin="round" />
<ellipse cx="415.2" cy="851.8" rx="2.53" ry="1.8399999999999999" transform="rotate(0 415.2 851.8)" fill="#fff" stroke="#1d1b1b" stroke-width="0.9"/>
<path d="M436.7 856.7 L433.8 859.6 L429.2 858.9 L427.7 855.5 L430.6 852.6 L435.2 853.3 Z" fill="#fff" stroke="#1d1b1b" stroke-width="1.2" stroke-linejoin="round" />
<ellipse cx="432.5" cy="855.3" rx="2.53" ry="1.8399999999999999" transform="rotate(0 432.5 855.3)" fill="#fff" stroke="#1d1b1b" stroke-width="0.9"/>
<path d="M453.8 860.2 L450.9 863.1 L446.3 862.4 L444.8 859.0 L447.7 856.1 L452.3 856.8 Z" fill="#fff" stroke="#1d1b1b" stroke-width="1.2" stroke-linejoin="round" />
<ellipse cx="449.6" cy="858.8" rx="2.53" ry="1.8399999999999999" transform="rotate(0 449.6 858.8)" fill="#fff" stroke="#1d1b1b" stroke-width="0.9"/>
<path d="M335.4 828.7 L404.0 843.5 L404.0 855.0 L401.9 856.6 L385.8 862.4 L372.0 858.0 L367.6 867.1 L337.4 840.2 Z" fill="#fff" stroke="#1d1b1b" stroke-width="1.2" stroke-linejoin="round" />
<line x1="337.5" y1="829.5" x2="339.2" y2="840.5" stroke="#1d1b1b" stroke-width="0.9" />
<line x1="339.2" y1="840.5" x2="368.5" y2="865.0" stroke="#1d1b1b" stroke-width="0.9" />
<ellipse cx="345.8" cy="836.1" rx="2.1" ry="2.6" transform="rotate(0 345.8 836.1)" fill="#fff" stroke="#1d1b1b" stroke-width="1.1"/>
<ellipse cx="357.9" cy="845.5" rx="3.5" ry="4.1" transform="rotate(0 357.9 845.5)" fill="#fff" stroke="#1d1b1b" stroke-width="1.1"/>
<ellipse cx="371.7" cy="841.8" rx="2.1" ry="2.6" transform="rotate(0 371.7 841.8)" fill="#fff" stroke="#1d1b1b" stroke-width="1.1"/>
<ellipse cx="385.5" cy="851.3" rx="3.5" ry="4.1" transform="rotate(0 385.5 851.3)" fill="#fff" stroke="#1d1b1b" stroke-width="1.1"/>
<ellipse cx="397.8" cy="847.6" rx="2.1" ry="2.6" transform="rotate(0 397.8 847.6)" fill="#fff" stroke="#1d1b1b" stroke-width="1.1"/>
<path d="M392.9 879.3 L435.0 910.6 A4.8 4.8 0 0 0 440.8 902.8 L398.6 871.6 Z" fill="#fff" stroke="#1d1b1b" stroke-width="1.05" stroke-linejoin="round"/>
<path d="M395.1 869.4 L372.1 853.3 A4.56 4.56 0 0 0 366.9 860.7 L389.9 876.8 Z" fill="#fff" stroke="#1d1b1b" stroke-width="1.05" stroke-linejoin="round"/>
<line x1="393.7" y1="871.4" x2="375.2" y2="858.5" stroke="#1d1b1b" stroke-width="0.9" />
<ellipse cx="370.6" cy="857.8" rx="2.508" ry="3.1008" transform="rotate(36.504702863615265 370.6 857.8)" fill="#fff" stroke="#1d1b1b" stroke-width="0.9"/>
<ellipse cx="370.6" cy="857.8" rx="1.3679999999999999" ry="1.8239999999999998" transform="rotate(36.504702863615265 370.6 857.8)" fill="#fff" stroke="#1d1b1b" stroke-width="0.9"/>
<path d="M388.2 876.4 L393.0 879.9 A2.3 5.2 36.5 0 0 399.2 871.6 L394.4 868.0 A2.3 5.2 36.5 0 1 388.2 876.4 Z" fill="#fff" stroke="#1d1b1b" stroke-width="1.05"/>
<path d="M390.6 878.2 A2.3 5.2 36.5 0 1 396.8 869.8" fill="none" stroke="#1d1b1b" stroke-width="0.9"/>
<text x="326.7" y="710.6" font-size="21" font-weight="bold" text-anchor="start" textLength="80.3" lengthAdjust="spacingAndGlyphs" fill="#1d1b1b" >M 1141</text>
<path d="M323.0 720.5 L409.5 720.5 L424.8 851.5" fill="none" stroke="#1d1b1b" stroke-width="1.0" stroke-linejoin="round" />
<text x="226.4" y="901.0" font-size="21" font-weight="bold" text-anchor="start" textLength="80.3" lengthAdjust="spacingAndGlyphs" fill="#1d1b1b" >M 1132</text>
<path d="M222.3 911.3 L308.7 911.3 L348.3 844.7" fill="none" stroke="#1d1b1b" stroke-width="1.0" stroke-linejoin="round" />
<path d="M521.1 882.6 L570.2 867.3 L798.3 915.9 L749.2 931.2 Z" fill="#fff" stroke="#1d1b1b" stroke-width="1.9" stroke-linejoin="round" />
<path d="M570.2 793.5 L798.3 842.1 L798.3 915.9 L570.2 867.3 Z" fill="#fff" stroke="#1d1b1b" stroke-width="1.9" stroke-linejoin="round" />
<path d="M521.1 808.4 L570.2 793.5 L570.2 867.3 L521.1 882.6 Z" fill="#fff" stroke="#1d1b1b" stroke-width="1.9" stroke-linejoin="round" />
<line x1="522.9" y1="809.6" x2="568.7" y2="795.3" stroke="#1d1b1b" stroke-width="0.9" />
<line x1="522.9" y1="881.1" x2="568.7" y2="866.1" stroke="#1d1b1b" stroke-width="0.9" />
<line x1="522.9" y1="809.9" x2="522.9" y2="881.1" stroke="#1d1b1b" stroke-width="0.9" />
<line x1="570.2" y1="830.2" x2="798.3" y2="878.8" stroke="#1d1b1b" stroke-width="1.1" />
<line x1="570.2" y1="832.8" x2="798.3" y2="881.4" stroke="#1d1b1b" stroke-width="1.1" />
<line x1="570.2" y1="831.5" x2="798.3" y2="880.1" stroke="#fff" stroke-width="1.4"/>
<line x1="522.9" y1="810.9" x2="568.7" y2="820.6" stroke="#1d1b1b" stroke-width="1.0" />
<line x1="522.9" y1="826.5" x2="568.7" y2="836.2" stroke="#1d1b1b" stroke-width="1.0" />
<line x1="522.9" y1="842.0" x2="568.7" y2="851.8" stroke="#1d1b1b" stroke-width="1.0" />
<line x1="522.9" y1="848.0" x2="568.7" y2="857.7" stroke="#1d1b1b" stroke-width="1.0" />
<ellipse cx="546.5" cy="803.0" rx="2.3" ry="2.9" fill="#fff" stroke="#1d1b1b" stroke-width="1.0"/>
<path d="M543.1 800.4 l1.4 1.2 M549.9 800.4 l-1.4 1.2 M543.1 805.6 l1.4 -1.2 M549.9 805.6 l-1.4 -1.2" stroke="#1d1b1b" stroke-width="1.1"/>
<ellipse cx="546.5" cy="803.6" rx="1.0" ry="0.8" fill="#1d1b1b"/>
<ellipse cx="547.0" cy="872.0" rx="2.3" ry="2.9" fill="#fff" stroke="#1d1b1b" stroke-width="1.0"/>
<path d="M543.6 869.4 l1.4 1.2 M550.4 869.4 l-1.4 1.2 M543.6 874.6 l1.4 -1.2 M550.4 874.6 l-1.4 -1.2" stroke="#1d1b1b" stroke-width="1.1"/>
<ellipse cx="547.0" cy="872.6" rx="1.0" ry="0.8" fill="#1d1b1b"/>
<ellipse cx="524.0" cy="845.0" rx="2.0" ry="2.5" fill="#fff" stroke="#1d1b1b" stroke-width="1.0"/>
<path d="M521.1 842.8 l1.2 1.0 M526.9 842.8 l-1.2 1.0 M521.1 847.2 l1.2 -1.0 M526.9 847.2 l-1.2 -1.0" stroke="#1d1b1b" stroke-width="1.1"/>
<ellipse cx="524.0" cy="845.5" rx="0.8" ry="0.7" fill="#1d1b1b"/>
<ellipse cx="568.0" cy="830.0" rx="2.0" ry="2.5" fill="#fff" stroke="#1d1b1b" stroke-width="1.0"/>
<path d="M565.1 827.8 l1.2 1.0 M570.9 827.8 l-1.2 1.0 M565.1 832.2 l1.2 -1.0 M570.9 832.2 l-1.2 -1.0" stroke="#1d1b1b" stroke-width="1.1"/>
<ellipse cx="568.0" cy="830.5" rx="0.8" ry="0.7" fill="#1d1b1b"/>
<path d="M600.4 889.0 L625.4 886.2 L654.8 891.6 L654.8 983.6 L629.6 990.8 L600.4 984.4 Z" fill="#fff" stroke="#1d1b1b" stroke-width="1.9" stroke-linejoin="round" />
<line x1="625.4" y1="886.2" x2="625.4" y2="977.2" stroke="#1d1b1b" stroke-width="1.9" />
<line x1="600.4" y1="984.4" x2="625.4" y2="977.2" stroke="#1d1b1b" stroke-width="1.9" />
<line x1="625.4" y1="977.2" x2="654.8" y2="983.6" stroke="#1d1b1b" stroke-width="1.9" />
<line x1="614.5" y1="887.4" x2="614.5" y2="980.3" stroke="#1d1b1b" stroke-width="1.2" />
<line x1="616.2" y1="887.2" x2="616.2" y2="979.8" stroke="#1d1b1b" stroke-width="0.9" />
<line x1="639.6" y1="888.8" x2="639.6" y2="980.3" stroke="#1d1b1b" stroke-width="1.2" />
<line x1="641.3" y1="889.1" x2="641.3" y2="980.7" stroke="#1d1b1b" stroke-width="0.9" />
<path d="M621.2 981.2 L625.4 979.2 L635.2 981.2 L635.2 987.6 L629.6 989.6 L621.2 987.6 Z" fill="#fff" stroke="#1d1b1b" stroke-width="1.2" stroke-linejoin="round" />
<line x1="629.6" y1="982.2" x2="629.6" y2="989.6" stroke="#1d1b1b" stroke-width="1.2" />
<line x1="603.4" y1="985.4" x2="621.2" y2="985.9" stroke="#1d1b1b" stroke-width="0.9" />
<line x1="635.2" y1="984.6" x2="651.8" y2="984.6" stroke="#1d1b1b" stroke-width="0.9" />
<path d="M562.5 877.8 L613.5 888.6 L613.5 949.5 Z" fill="#fff" stroke="#1d1b1b" stroke-width="1.9" stroke-linejoin="round" />
<line x1="566.5" y1="877.8" x2="614.7" y2="947.5" stroke="#1d1b1b" stroke-width="0.9" />
<circle cx="584.3" cy="896.2" r="1.8" fill="#fff" stroke="#1d1b1b" stroke-width="1.1"/>
<circle cx="593.5" cy="909.6" r="2.4" fill="#fff" stroke="#1d1b1b" stroke-width="1.1"/>
<circle cx="603.0" cy="923.0" r="1.8" fill="#fff" stroke="#1d1b1b" stroke-width="1.1"/>
<line x1="566.8" y1="878.5" x2="616.5" y2="950.0" stroke="#1d1b1b" stroke-width="0.9" />
<path d="M654.8 897.5 L696.5 904.8 L654.8 945.9 Z" fill="#fff" stroke="#1d1b1b" stroke-width="1.9" stroke-linejoin="round" />
<circle cx="674.8" cy="915.3" r="1.7" fill="#fff" stroke="#1d1b1b" stroke-width="1.1"/>
<path d="M681.8 917.2 L696.5 904.8 L740.0 913.5 L752.0 916.0 L755.5 921.5 L744.0 931.0 L731.5 928.0 Z" fill="#fff" stroke="#1d1b1b" stroke-width="1.2" stroke-linejoin="round" />
<line x1="688.2" y1="911.8" x2="752.0" y2="924.0" stroke="#1d1b1b" stroke-width="0.9" />
<path d="M707.4 916.5 L704.5 919.4 L699.9 918.7 L698.4 915.3 L701.3 912.4 L705.9 913.1 Z" fill="#fff" stroke="#1d1b1b" stroke-width="1.2" stroke-linejoin="round" />
<ellipse cx="703.2" cy="915.1" rx="2.53" ry="1.8399999999999999" transform="rotate(0 703.2 915.1)" fill="#fff" stroke="#1d1b1b" stroke-width="0.9"/>
<path d="M725.2 921.0 L722.3 923.9 L717.7 923.2 L716.2 919.8 L719.1 916.9 L723.7 917.6 Z" fill="#fff" stroke="#1d1b1b" stroke-width="1.2" stroke-linejoin="round" />
<ellipse cx="721.0" cy="919.6" rx="2.53" ry="1.8399999999999999" transform="rotate(0 721.0 919.6)" fill="#fff" stroke="#1d1b1b" stroke-width="0.9"/>
<path d="M743.0 924.6 L740.1 927.5 L735.5 926.8 L734.0 923.4 L736.9 920.5 L741.5 921.2 Z" fill="#fff" stroke="#1d1b1b" stroke-width="1.2" stroke-linejoin="round" />
<ellipse cx="738.8" cy="923.2" rx="2.53" ry="1.8399999999999999" transform="rotate(0 738.8 923.2)" fill="#fff" stroke="#1d1b1b" stroke-width="0.9"/>
<path d="M682.7 947.3 L722.1 989.1 A5.3 5.3 0 0 0 729.9 981.9 L690.4 940.1 Z" fill="#fff" stroke="#1d1b1b" stroke-width="1.05" stroke-linejoin="round"/>
<path d="M687.3 937.2 L667.0 917.4 A5.034999999999999 5.034999999999999 0 0 0 660.0 924.6 L680.3 944.4 Z" fill="#fff" stroke="#1d1b1b" stroke-width="1.05" stroke-linejoin="round"/>
<line x1="685.4" y1="939.2" x2="669.4" y2="923.6" stroke="#1d1b1b" stroke-width="0.9" />
<ellipse cx="664.6" cy="922.1" rx="2.76925" ry="3.4238" transform="rotate(46.6478705591143 664.6 922.1)" fill="#fff" stroke="#1d1b1b" stroke-width="0.9"/>
<ellipse cx="664.6" cy="922.1" rx="1.5104999999999997" ry="2.014" transform="rotate(46.6478705591143 664.6 922.1)" fill="#fff" stroke="#1d1b1b" stroke-width="0.9"/>
<path d="M678.6 943.6 L682.7 948.0 A2.6 5.7 46.6 0 0 691.1 940.1 L686.9 935.8 A2.6 5.7 46.6 0 1 678.6 943.6 Z" fill="#fff" stroke="#1d1b1b" stroke-width="1.05"/>
<path d="M680.7 945.8 A2.6 5.7 46.6 0 1 689.0 938.0" fill="none" stroke="#1d1b1b" stroke-width="0.9"/>
<ellipse cx="656.5" cy="935.0" rx="1.4" ry="2" transform="rotate(0 656.5 935.0)" fill="#fff" stroke="#1d1b1b" stroke-width="0.9"/>
<path d="M600.2 1003.0 L625.2 995.4 L654.8 1001.8 L654.8 1068.5 L625.2 1060.0 L600.2 1068.2 Z" fill="#fff" stroke="#1d1b1b" stroke-width="1.9" stroke-linejoin="round" />
<line x1="625.2" y1="995.4" x2="625.2" y2="1057.5" stroke="#1d1b1b" stroke-width="1.9" />
<line x1="600.2" y1="1065.7" x2="625.2" y2="1057.5" stroke="#1d1b1b" stroke-width="1.2" />
<line x1="625.2" y1="1057.5" x2="654.8" y2="1066.0" stroke="#1d1b1b" stroke-width="1.2" />
<line x1="612.4" y1="999.3" x2="612.4" y2="1061.7" stroke="#1d1b1b" stroke-width="1.2" />
<line x1="614.1" y1="998.8" x2="614.1" y2="1061.1" stroke="#1d1b1b" stroke-width="0.9" />
<line x1="639.6" y1="998.5" x2="639.6" y2="1061.6" stroke="#1d1b1b" stroke-width="1.2" />
<line x1="641.3" y1="998.9" x2="641.3" y2="1062.1" stroke="#1d1b1b" stroke-width="0.9" />
<ellipse cx="640.5" cy="1021.0" rx="2.0" ry="2.8" transform="rotate(0 640.5 1021.0)" fill="#fff" stroke="#1d1b1b" stroke-width="0.9"/>
<path d="M592.2 1034.1 l5.5 -1.3 a1.2 1.5 0 0 1 0.2 3 l-5.5 1.3" fill="#fff" stroke="#1d1b1b" stroke-width="0.9"/>
<ellipse cx="592.2" cy="1035.5" rx="2.2" ry="2.9" transform="rotate(0 592.2 1035.5)" fill="#fff" stroke="#1d1b1b" stroke-width="1.0"/>
<path d="M662.5 1012.3 l-5.5 -1.3 a1.2 1.5 0 0 0 0.2 3 l5.5 1.3" fill="#fff" stroke="#1d1b1b" stroke-width="0.9"/>
<ellipse cx="662.5" cy="1013.7" rx="2.2" ry="2.9" transform="rotate(0 662.5 1013.7)" fill="#fff" stroke="#1d1b1b" stroke-width="1.0"/>
<path d="M600.5 1068.5 L615.5 1072.0 L617.0 1069.0 L620.5 1067.0 L638.2 1069.2 L638.2 1076.4 L651.2 1096.5 L652.0 1108.0 L646.0 1110.5 L604.0 1089.0 L597.0 1082.0 Z" fill="#fff" stroke="#1d1b1b" stroke-width="1.2" stroke-linejoin="round" />
<path d="M589.0 1064.4 L537.3 1039.4 L533.1 1048.0 L584.8 1073.1 Z" fill="#fff" stroke="#1d1b1b" stroke-width="1.05" stroke-linejoin="round"/>
<ellipse cx="535.2" cy="1043.7" rx="2.016" ry="4.8" transform="rotate(-154.14381239948256 535.2 1043.7)" fill="#fff" stroke="#1d1b1b" stroke-width="1.05"/>
<ellipse cx="535.2" cy="1043.7" rx="0.96" ry="2.16" transform="rotate(-154.14381239948256 535.2 1043.7)" fill="#fff" stroke="#1d1b1b" stroke-width="1.05"/>
<path d="M588.6 1074.6 L613.6 1086.1 A4.56 4.56 0 0 0 617.4 1077.9 L592.4 1066.4 Z" fill="#fff" stroke="#1d1b1b" stroke-width="1.05" stroke-linejoin="round"/>
<line x1="589.6" y1="1072.4" x2="609.7" y2="1081.6" stroke="#1d1b1b" stroke-width="0.9" />
<ellipse cx="614.3" cy="1081.4" rx="2.508" ry="3.1008" transform="rotate(-154.14381239948256 614.3 1081.4)" fill="#fff" stroke="#1d1b1b" stroke-width="0.9"/>
<ellipse cx="614.3" cy="1081.4" rx="1.3679999999999999" ry="1.8239999999999998" transform="rotate(-154.14381239948256 614.3 1081.4)" fill="#fff" stroke="#1d1b1b" stroke-width="0.9"/>
<path d="M594.1 1066.5 L588.7 1063.9 A2.3 5.2 -154.1 0 0 584.2 1073.2 L589.6 1075.8 A2.3 5.2 -154.1 0 1 594.1 1066.5 Z" fill="#fff" stroke="#1d1b1b" stroke-width="1.05"/>
<path d="M591.4 1065.2 A2.3 5.2 -154.1 0 1 586.9 1074.5" fill="none" stroke="#1d1b1b" stroke-width="0.9"/>
<path d="M672.1 1117.7 L719.2 1140.3 A5.0 5.0 0 0 0 723.6 1131.3 L676.5 1108.7 Z" fill="#fff" stroke="#1d1b1b" stroke-width="1.05" stroke-linejoin="round"/>
<path d="M672.8 1107.2 L647.6 1094.7 A4.75 4.75 0 0 0 643.4 1103.3 L668.6 1115.8 Z" fill="#fff" stroke="#1d1b1b" stroke-width="1.05" stroke-linejoin="round"/>
<line x1="671.6" y1="1109.6" x2="651.6" y2="1099.6" stroke="#1d1b1b" stroke-width="0.9" />
<ellipse cx="646.8" cy="1099.6" rx="2.6125000000000003" ry="3.2300000000000004" transform="rotate(25.60793148921832 646.8 1099.6)" fill="#fff" stroke="#1d1b1b" stroke-width="0.9"/>
<ellipse cx="646.8" cy="1099.6" rx="1.425" ry="1.9000000000000001" transform="rotate(25.60793148921832 646.8 1099.6)" fill="#fff" stroke="#1d1b1b" stroke-width="0.9"/>
<path d="M667.0 1115.7 L672.4 1118.3 A2.4 5.4 25.6 0 0 677.1 1108.6 L671.7 1106.0 A2.4 5.4 25.6 0 1 667.0 1115.7 Z" fill="#fff" stroke="#1d1b1b" stroke-width="1.05"/>
<path d="M669.7 1117.0 A2.4 5.4 25.6 0 1 674.4 1107.3" fill="none" stroke="#1d1b1b" stroke-width="0.9"/>
<line x1="600.0" y1="1089.5" x2="645.0" y2="1111.5" stroke="#1d1b1b" stroke-width="0.9" />
<text x="463.0" y="966.3" font-size="21" font-weight="bold" text-anchor="start" textLength="80.3" lengthAdjust="spacingAndGlyphs" fill="#1d1b1b" >M 1129</text>
<path d="M459.0 977.0 L545.4 977.0 L583.2 913.2" fill="none" stroke="#1d1b1b" stroke-width="1.0" stroke-linejoin="round" />
<text x="775.5" y="1006.6" font-size="21" font-weight="bold" text-anchor="start" textLength="80.3" lengthAdjust="spacingAndGlyphs" fill="#1d1b1b" >M 1141</text>
<path d="M858.2 1016.1 L772.7 1016.1 L732.6 930.3" fill="none" stroke="#1d1b1b" stroke-width="1.0" stroke-linejoin="round" />
<text x="513.7" y="1146.3" font-size="21" font-weight="bold" text-anchor="start" textLength="80.3" lengthAdjust="spacingAndGlyphs" fill="#1d1b1b" >M 1262</text>
<path d="M509.5 1155.8 L606.4 1155.8 L624.5 1100.7" fill="none" stroke="#1d1b1b" stroke-width="1.0" stroke-linejoin="round" />
<path d="M809.5 945.1 L858.5 929.5 L1038.4 968.4 L989.4 984.0 Z" fill="#fff" stroke="#1d1b1b" stroke-width="1.9" stroke-linejoin="round" />
<path d="M858.5 855.6 L1038.4 894.5 L1038.4 968.4 L858.5 929.5 Z" fill="#fff" stroke="#1d1b1b" stroke-width="1.9" stroke-linejoin="round" />
<path d="M809.5 871.1 L858.5 855.6 L858.5 929.5 L809.5 945.1 Z" fill="#fff" stroke="#1d1b1b" stroke-width="1.9" stroke-linejoin="round" />
<line x1="811.3" y1="872.3" x2="857.0" y2="857.4" stroke="#1d1b1b" stroke-width="0.9" />
<line x1="811.3" y1="943.6" x2="857.0" y2="928.3" stroke="#1d1b1b" stroke-width="0.9" />
<line x1="811.3" y1="872.6" x2="811.3" y2="943.6" stroke="#1d1b1b" stroke-width="0.9" />
<line x1="858.5" y1="890.5" x2="1038.4" y2="929.4" stroke="#1d1b1b" stroke-width="1.1" />
<line x1="858.5" y1="893.1" x2="1038.4" y2="932.0" stroke="#1d1b1b" stroke-width="1.1" />
<line x1="858.5" y1="891.8" x2="1038.4" y2="930.7" stroke="#fff" stroke-width="1.4"/>
<line x1="811.3" y1="874.3" x2="857.0" y2="884.2" stroke="#1d1b1b" stroke-width="1.0" />
<line x1="811.3" y1="901.7" x2="857.0" y2="911.6" stroke="#1d1b1b" stroke-width="1.0" />
<line x1="811.3" y1="910.6" x2="857.0" y2="920.5" stroke="#1d1b1b" stroke-width="1.0" />
<ellipse cx="834.0" cy="866.0" rx="2.3" ry="2.9" fill="#fff" stroke="#1d1b1b" stroke-width="1.0"/>
<path d="M830.6 863.4 l1.4 1.2 M837.4 863.4 l-1.4 1.2 M830.6 868.6 l1.4 -1.2 M837.4 868.6 l-1.4 -1.2" stroke="#1d1b1b" stroke-width="1.1"/>
<ellipse cx="834.0" cy="866.6" rx="1.0" ry="0.8" fill="#1d1b1b"/>
<ellipse cx="834.0" cy="932.5" rx="2.3" ry="2.9" fill="#fff" stroke="#1d1b1b" stroke-width="1.0"/>
<path d="M830.6 929.9 l1.4 1.2 M837.4 929.9 l-1.4 1.2 M830.6 935.1 l1.4 -1.2 M837.4 935.1 l-1.4 -1.2" stroke="#1d1b1b" stroke-width="1.1"/>
<ellipse cx="834.0" cy="933.1" rx="1.0" ry="0.8" fill="#1d1b1b"/>
<ellipse cx="811.0" cy="905.0" rx="2.0" ry="2.5" fill="#fff" stroke="#1d1b1b" stroke-width="1.0"/>
<path d="M808.1 902.8 l1.2 1.0 M813.9 902.8 l-1.2 1.0 M808.1 907.2 l1.2 -1.0 M813.9 907.2 l-1.2 -1.0" stroke="#1d1b1b" stroke-width="1.1"/>
<ellipse cx="811.0" cy="905.5" rx="0.8" ry="0.7" fill="#1d1b1b"/>
<ellipse cx="856.0" cy="892.0" rx="2.0" ry="2.5" fill="#fff" stroke="#1d1b1b" stroke-width="1.0"/>
<path d="M853.1 889.8 l1.2 1.0 M858.9 889.8 l-1.2 1.0 M853.1 894.2 l1.2 -1.0 M858.9 894.2 l-1.2 -1.0" stroke="#1d1b1b" stroke-width="1.1"/>
<ellipse cx="856.0" cy="892.5" rx="0.8" ry="0.7" fill="#1d1b1b"/>
<path d="M899.0 954.5 L923.6 951.3 L953.0 954.5 L953.0 1048.2 L928.4 1055.6 L899.0 1049.4 Z" fill="#fff" stroke="#1d1b1b" stroke-width="1.9" stroke-linejoin="round" />
<line x1="923.6" y1="951.3" x2="923.6" y2="1042.2" stroke="#1d1b1b" stroke-width="1.9" />
<line x1="899.0" y1="1049.4" x2="923.6" y2="1042.2" stroke="#1d1b1b" stroke-width="1.9" />
<line x1="923.6" y1="1042.2" x2="953.0" y2="1048.2" stroke="#1d1b1b" stroke-width="1.9" />
<line x1="911.0" y1="952.9" x2="911.0" y2="1045.9" stroke="#1d1b1b" stroke-width="1.2" />
<line x1="912.7" y1="952.7" x2="912.7" y2="1045.4" stroke="#1d1b1b" stroke-width="0.9" />
<line x1="938.4" y1="952.9" x2="938.4" y2="1045.2" stroke="#1d1b1b" stroke-width="1.2" />
<line x1="940.1" y1="953.1" x2="940.1" y2="1045.6" stroke="#1d1b1b" stroke-width="0.9" />
<path d="M919.6 1046.0 L923.6 1044.0 L934.4 1046.0 L934.4 1052.0 L928.4 1054.0 L919.6 1052.0 Z" fill="#fff" stroke="#1d1b1b" stroke-width="1.2" stroke-linejoin="round" />
<line x1="928.4" y1="1047.0" x2="928.4" y2="1054.0" stroke="#1d1b1b" stroke-width="1.2" />
<line x1="902.0" y1="1050.4" x2="919.6" y2="1050.9" stroke="#1d1b1b" stroke-width="0.9" />
<line x1="934.4" y1="1049.2" x2="950.0" y2="1049.2" stroke="#1d1b1b" stroke-width="0.9" />
<path d="M860.1 943.6 L912.5 954.5 L912.5 1015.2 Z" fill="#fff" stroke="#1d1b1b" stroke-width="1.9" stroke-linejoin="round" />
<line x1="864.1" y1="943.6" x2="913.7" y2="1013.2" stroke="#1d1b1b" stroke-width="0.9" />
<circle cx="883.0" cy="960.8" r="1.6" fill="#fff" stroke="#1d1b1b" stroke-width="1.1"/>
<circle cx="892.0" cy="974.5" r="2.3" fill="#fff" stroke="#1d1b1b" stroke-width="1.1"/>
<circle cx="901.5" cy="988.0" r="1.6" fill="#fff" stroke="#1d1b1b" stroke-width="1.1"/>
<line x1="866.3" y1="944.0" x2="914.0" y2="1013.0" stroke="#1d1b1b" stroke-width="0.9" />
<path d="M953.0 963.8 L991.0 971.6 L953.0 1010.5 Z" fill="#fff" stroke="#1d1b1b" stroke-width="1.9" stroke-linejoin="round" />
<path d="M990.5 972.2 L981.9 982.0 L988.5 983.8" fill="none" stroke="#1d1b1b" stroke-width="1.2" stroke-linejoin="round" />
<circle cx="973.0" cy="980.5" r="1.6" fill="#fff" stroke="#1d1b1b" stroke-width="1.1"/>
<circle cx="963.5" cy="991.5" r="2.2" fill="#fff" stroke="#1d1b1b" stroke-width="1.1"/>
<circle cx="955.5" cy="999.0" r="1.5" fill="#fff" stroke="#1d1b1b" stroke-width="1.1"/>
<path d="M875.0 985.0 l5.5 -1.3 a1.2 1.5 0 0 1 0.2 3 l-5.5 1.3" fill="#fff" stroke="#1d1b1b" stroke-width="0.9"/>
<ellipse cx="875.0" cy="986.4" rx="2.2" ry="2.9" transform="rotate(0 875.0 986.4)" fill="#fff" stroke="#1d1b1b" stroke-width="1.0"/>
<path d="M966.0 1006.5 l-5.5 -1.3 a1.2 1.5 0 0 0 0.2 3 l5.5 1.3" fill="#fff" stroke="#1d1b1b" stroke-width="0.9"/>
<ellipse cx="966.0" cy="1007.9" rx="2.2" ry="2.9" transform="rotate(0 966.0 1007.9)" fill="#fff" stroke="#1d1b1b" stroke-width="1.0"/>
<path d="M899.0 1068.0 L923.6 1060.4 L953.0 1066.8 L953.0 1167.0 L923.6 1160.5 L899.0 1166.5 Z" fill="#fff" stroke="#1d1b1b" stroke-width="1.9" stroke-linejoin="round" />
<line x1="923.6" y1="1060.4" x2="923.6" y2="1158.0" stroke="#1d1b1b" stroke-width="1.9" />
<line x1="899.0" y1="1164.0" x2="923.6" y2="1158.0" stroke="#1d1b1b" stroke-width="1.2" />
<line x1="923.6" y1="1158.0" x2="953.0" y2="1164.5" stroke="#1d1b1b" stroke-width="1.2" />
<line x1="911.0" y1="1064.3" x2="911.0" y2="1161.1" stroke="#1d1b1b" stroke-width="1.2" />
<line x1="912.7" y1="1063.8" x2="912.7" y2="1160.7" stroke="#1d1b1b" stroke-width="0.9" />
<line x1="938.4" y1="1063.6" x2="938.4" y2="1161.3" stroke="#1d1b1b" stroke-width="1.2" />
<line x1="940.1" y1="1064.0" x2="940.1" y2="1161.6" stroke="#1d1b1b" stroke-width="0.9" />
<ellipse cx="938.8" cy="1120.5" rx="2.0" ry="2.8" transform="rotate(0 938.8 1120.5)" fill="#fff" stroke="#1d1b1b" stroke-width="0.9"/>
<path d="M888.0 1132.5 l5.5 -1.3 a1.2 1.5 0 0 1 0.2 3 l-5.5 1.3" fill="#fff" stroke="#1d1b1b" stroke-width="0.9"/>
<ellipse cx="888.0" cy="1133.9" rx="2.2" ry="2.9" transform="rotate(0 888.0 1133.9)" fill="#fff" stroke="#1d1b1b" stroke-width="1.0"/>
<path d="M958.0 1111.0 l-5.5 -1.3 a1.2 1.5 0 0 0 0.2 3 l5.5 1.3" fill="#fff" stroke="#1d1b1b" stroke-width="0.9"/>
<ellipse cx="958.0" cy="1112.4" rx="2.2" ry="2.9" transform="rotate(0 958.0 1112.4)" fill="#fff" stroke="#1d1b1b" stroke-width="1.0"/>
<path d="M899.0 1166.5 L912.0 1168.0 L915.0 1172.0 L918.0 1170.0 L918.5 1166.5 L936.0 1169.0 L937.5 1172.0 L939.5 1177.0 L945.0 1180.0 L952.5 1181.0 L952.5 1204.0 L947.0 1212.0 L945.0 1217.5 L905.0 1209.0 L899.5 1204.0 L901.0 1190.0 Z" fill="#fff" stroke="#1d1b1b" stroke-width="1.2" stroke-linejoin="round" />
<line x1="905.0" y1="1211.0" x2="944.0" y2="1219.5" stroke="#1d1b1b" stroke-width="0.9" />
<path d="M889.6 1157.9 L843.3 1122.8 L837.7 1130.2 L884.0 1165.3 Z" fill="#fff" stroke="#1d1b1b" stroke-width="1.05" stroke-linejoin="round"/>
<ellipse cx="840.5" cy="1126.5" rx="1.9319999999999997" ry="4.6" transform="rotate(-142.8533133019782 840.5 1126.5)" fill="#fff" stroke="#1d1b1b" stroke-width="1.05"/>
<ellipse cx="840.5" cy="1126.5" rx="0.9199999999999999" ry="2.07" transform="rotate(-142.8533133019782 840.5 1126.5)" fill="#fff" stroke="#1d1b1b" stroke-width="1.05"/>
<path d="M887.4 1167.5 L908.4 1183.5 A4.369999999999999 4.369999999999999 0 0 0 913.6 1176.5 L892.6 1160.5 Z" fill="#fff" stroke="#1d1b1b" stroke-width="1.05" stroke-linejoin="round"/>
<line x1="888.8" y1="1165.6" x2="905.6" y2="1178.4" stroke="#1d1b1b" stroke-width="0.9" />
<ellipse cx="910.0" cy="1179.2" rx="2.4034999999999997" ry="2.9715999999999996" transform="rotate(-142.8533133019782 910.0 1179.2)" fill="#fff" stroke="#1d1b1b" stroke-width="0.9"/>
<ellipse cx="910.0" cy="1179.2" rx="1.3109999999999997" ry="1.7479999999999998" transform="rotate(-142.8533133019782 910.0 1179.2)" fill="#fff" stroke="#1d1b1b" stroke-width="0.9"/>
<path d="M894.2 1160.9 L889.4 1157.3 A2.2 5.0 -142.9 0 0 883.4 1165.2 L888.2 1168.9 A2.2 5.0 -142.9 0 1 894.2 1160.9 Z" fill="#fff" stroke="#1d1b1b" stroke-width="1.05"/>
<path d="M891.8 1159.1 A2.2 5.0 -142.9 0 1 885.8 1167.1" fill="none" stroke="#1d1b1b" stroke-width="0.9"/>
<path d="M887.0 1186.1 L836.3 1166.0 L832.7 1175.0 L883.5 1195.0 Z" fill="#fff" stroke="#1d1b1b" stroke-width="1.05" stroke-linejoin="round"/>
<ellipse cx="834.5" cy="1170.5" rx="2.016" ry="4.8" transform="rotate(-158.4709931181609 834.5 1170.5)" fill="#fff" stroke="#1d1b1b" stroke-width="1.05"/>
<ellipse cx="834.5" cy="1170.5" rx="0.96" ry="2.16" transform="rotate(-158.4709931181609 834.5 1170.5)" fill="#fff" stroke="#1d1b1b" stroke-width="1.05"/>
<path d="M887.4 1196.3 L909.4 1204.3 A4.56 4.56 0 0 0 912.6 1195.7 L890.6 1187.7 Z" fill="#fff" stroke="#1d1b1b" stroke-width="1.05" stroke-linejoin="round"/>
<line x1="888.3" y1="1193.9" x2="905.2" y2="1200.1" stroke="#1d1b1b" stroke-width="0.9" />
<ellipse cx="909.7" cy="1199.5" rx="2.508" ry="3.1008" transform="rotate(-158.4709931181609 909.7 1199.5)" fill="#fff" stroke="#1d1b1b" stroke-width="0.9"/>
<ellipse cx="909.7" cy="1199.5" rx="1.3679999999999999" ry="1.8239999999999998" transform="rotate(-158.4709931181609 909.7 1199.5)" fill="#fff" stroke="#1d1b1b" stroke-width="0.9"/>
<path d="M892.3 1187.7 L886.7 1185.5 A2.3 5.2 -158.5 0 0 882.9 1195.2 L888.5 1197.4 A2.3 5.2 -158.5 0 1 892.3 1187.7 Z" fill="#fff" stroke="#1d1b1b" stroke-width="1.05"/>
<path d="M889.5 1186.6 A2.3 5.2 -158.5 0 1 885.7 1196.3" fill="none" stroke="#1d1b1b" stroke-width="0.9"/>
<path d="M972.5 1182.3 L1014.8 1166.2 A5.0 5.0 0 0 0 1011.2 1156.8 L969.0 1172.9 Z" fill="#fff" stroke="#1d1b1b" stroke-width="1.05" stroke-linejoin="round"/>
<path d="M965.2 1174.6 L945.7 1182.6 A4.75 4.75 0 0 0 949.3 1191.4 L968.8 1183.4 Z" fill="#fff" stroke="#1d1b1b" stroke-width="1.05" stroke-linejoin="round"/>
<line x1="966.2" y1="1177.0" x2="952.0" y2="1182.9" stroke="#1d1b1b" stroke-width="0.9" />
<ellipse cx="948.8" cy="1186.5" rx="2.6125000000000003" ry="3.2300000000000004" transform="rotate(-20.828555790206835 948.8 1186.5)" fill="#fff" stroke="#1d1b1b" stroke-width="0.9"/>
<ellipse cx="948.8" cy="1186.5" rx="1.425" ry="1.9000000000000001" transform="rotate(-20.828555790206835 948.8 1186.5)" fill="#fff" stroke="#1d1b1b" stroke-width="0.9"/>
<path d="M967.5 1184.6 L973.1 1182.4 A2.4 5.4 -20.8 0 0 969.3 1172.4 L963.7 1174.5 A2.4 5.4 -20.8 0 1 967.5 1184.6 Z" fill="#fff" stroke="#1d1b1b" stroke-width="1.05"/>
<path d="M970.3 1183.5 A2.4 5.4 -20.8 0 1 966.5 1173.4" fill="none" stroke="#1d1b1b" stroke-width="0.9"/>
<path d="M973.0 1214.7 L1020.0 1214.7 A5.2 5.2 0 0 0 1020.0 1204.3 L973.0 1204.3 Z" fill="#fff" stroke="#1d1b1b" stroke-width="1.05" stroke-linejoin="round"/>
<path d="M969.0 1204.6 L947.5 1204.4 A4.9399999999999995 4.9399999999999995 0 0 0 947.5 1214.2 L969.0 1214.4 Z" fill="#fff" stroke="#1d1b1b" stroke-width="1.05" stroke-linejoin="round"/>
<line x1="969.0" y1="1207.3" x2="953.4" y2="1207.1" stroke="#1d1b1b" stroke-width="0.9" />
<ellipse cx="949.0" cy="1209.3" rx="2.717" ry="3.3592" transform="rotate(0.0 949.0 1209.3)" fill="#fff" stroke="#1d1b1b" stroke-width="0.9"/>
<ellipse cx="949.0" cy="1209.3" rx="1.4819999999999998" ry="1.976" transform="rotate(0.0 949.0 1209.3)" fill="#fff" stroke="#1d1b1b" stroke-width="0.9"/>
<path d="M967.5 1215.1 L973.5 1215.1 A2.5 5.6 0.0 0 0 973.5 1203.9 L967.5 1203.9 A2.5 5.6 0.0 0 1 967.5 1215.1 Z" fill="#fff" stroke="#1d1b1b" stroke-width="1.05"/>
<path d="M970.5 1215.1 A2.5 5.6 0.0 0 1 970.5 1203.9" fill="none" stroke="#1d1b1b" stroke-width="0.9"/>
<line x1="952.5" y1="1191.0" x2="952.5" y2="1204.0" stroke="#1d1b1b" stroke-width="0.9" />
<text x="808.6" y="1263.3" font-size="21" font-weight="bold" text-anchor="start" textLength="80.3" lengthAdjust="spacingAndGlyphs" fill="#1d1b1b" >M 1264</text>
<path d="M804.2 1273.2 L891.2 1273.2 L929.8 1206.3" fill="none" stroke="#1d1b1b" stroke-width="1.0" stroke-linejoin="round" />
<defs><clipPath id="dc"><circle cx="317.6" cy="1146" r="147.3"/></clipPath></defs>
<g clip-path="url(#dc)">
<path d="M315.9 990.0 L364.8 990.0 L424.2 990.0 L424.2 1132.4 L364.8 1120.2 L315.9 1135.0 Z" fill="#fff" stroke="#1d1b1b" stroke-width="1.2" stroke-linejoin="round" />
<line x1="339.3" y1="985.0" x2="339.3" y2="1127.9" stroke="#1d1b1b" stroke-width="1.2" />
<line x1="342.5" y1="985.0" x2="342.5" y2="1126.9" stroke="#1d1b1b" stroke-width="0.9" />
<line x1="392.4" y1="985.0" x2="392.4" y2="1125.9" stroke="#1d1b1b" stroke-width="1.2" />
<line x1="396.1" y1="985.0" x2="396.1" y2="1126.6" stroke="#1d1b1b" stroke-width="0.9" />
<line x1="364.8" y1="985.0" x2="364.8" y2="1120.2" stroke="#1d1b1b" stroke-width="1.2" />
<ellipse cx="394.2" cy="1045.7" rx="2.6" ry="4" transform="rotate(0 394.2 1045.7)" fill="#fff" stroke="#1d1b1b" stroke-width="0.9"/>
<path d="M313.8 1135.2 L364.2 1120.2 L425.8 1132.9 L425.8 1139.3 L392.4 1149.4 L344.6 1149.9 L313.8 1141.9 Z" fill="#fff" stroke="#1d1b1b" stroke-width="1.2" stroke-linejoin="round" />
<line x1="314.9" y1="1139.3" x2="364.2" y2="1126.0" stroke="#1d1b1b" stroke-width="1.2" />
<line x1="364.2" y1="1126.0" x2="425.8" y2="1138.8" stroke="#1d1b1b" stroke-width="1.2" />
<line x1="364.2" y1="1120.2" x2="364.2" y2="1126.0" stroke="#1d1b1b" stroke-width="1.2" />
<ellipse cx="382.3" cy="1136.1" rx="10.6" ry="3.2" transform="rotate(0 382.3 1136.1)" fill="#fff" stroke="#1d1b1b" stroke-width="0.9"/>
<ellipse cx="382.3" cy="1136.1" rx="3.2" ry="1.2" transform="rotate(0 382.3 1136.1)" fill="#fff" stroke="#1d1b1b" stroke-width="0.9"/>
<path d="M316.5 1163.0 L318.0 1156.0 L323.0 1151.5 L330.0 1150.0 L344.6 1150.5 L350.0 1150.5 L353.0 1145.0 L353.6 1136.8 L391.3 1143.0 L392.4 1149.4 L394.0 1156.0 L398.0 1162.0 L405.0 1166.0 L416.0 1168.0 L430.0 1170.0 L430.0 1238.0 L414.0 1241.5 L404.0 1240.0 L331.0 1224.5 L322.0 1220.0 L316.5 1210.0 Z" fill="#fff" stroke="#1d1b1b" stroke-width="1.2" stroke-linejoin="round" />
<line x1="321.5" y1="1157.0" x2="321.5" y2="1212.0" stroke="#1d1b1b" stroke-width="0.9" />
<line x1="327.0" y1="1227.5" x2="410.0" y2="1244.0" stroke="#1d1b1b" stroke-width="0.9" />
<ellipse cx="332.9" cy="1163.7" rx="3.5" ry="4.3" transform="rotate(0 332.9 1163.7)" fill="#fff" stroke="#1d1b1b" stroke-width="0.9"/>
<path d="M160 1124.5 L296 1185 L282 1205 L160 1152" fill="#fff" stroke="#1d1b1b" stroke-width="1.2"/>
<path d="M285.0 1181.0 L300.0 1183.0 L306.0 1190.0 L303.0 1205.0 L289.0 1208.0 L281.0 1202.0 Z" fill="#fff" stroke="#1d1b1b" stroke-width="1.2" stroke-linejoin="round" />
<path d="M303.0 1186.0 L342.5 1199.8 L347.0 1207.0 L343.0 1217.0 L340.3 1220.0 L300.0 1210.4 Z" fill="#fff" stroke="#1d1b1b" stroke-width="1.2" stroke-linejoin="round" />
<ellipse cx="339.3" cy="1207.2" rx="3.8" ry="4.6" transform="rotate(0 339.3 1207.2)" fill="#fff" stroke="#1d1b1b" stroke-width="0.9"/>
<line x1="300.0" y1="1203.0" x2="340.0" y2="1218.0" stroke="#1d1b1b" stroke-width="0.9" />
<line x1="290.0" y1="1207.0" x2="330.0" y2="1226.0" stroke="#1d1b1b" stroke-width="0.9" />
<path d="M185 1052 L223.4 1091 L214.4 1103.4 L175 1072" fill="#fff" stroke="#1d1b1b" stroke-width="1.2"/>
<path d="M221.0 1089.0 L234.7 1093.0 L236.0 1100.0 L232.0 1111.3 L216.0 1106.0 Z" fill="#fff" stroke="#1d1b1b" stroke-width="1.2" stroke-linejoin="round" />
<path d="M234.7 1095.5 L273.2 1124.0 L274.0 1132.0 L268.0 1137.0 L259.6 1143.0 L221.1 1115.9 Z" fill="#fff" stroke="#1d1b1b" stroke-width="1.2" stroke-linejoin="round" />
<ellipse cx="265.3" cy="1126.1" rx="3" ry="3.5" transform="rotate(0 265.3 1126.1)" fill="#fff" stroke="#1d1b1b" stroke-width="0.9"/>
<line x1="226.0" y1="1114.0" x2="262.0" y2="1140.0" stroke="#1d1b1b" stroke-width="0.9" />
<path d="M252.4 1071.0 L272.3 1060.6 L277.5 1069.2 L266.4 1075.1 L264.6 1079.6 L261.2 1077.8 L257.8 1083.0 L253.8 1080.8 Z" fill="#fff" stroke="#1d1b1b" stroke-width="1.2" stroke-linejoin="round" />
<line x1="257.0" y1="1073.0" x2="259.0" y2="1079.0" stroke="#1d1b1b" stroke-width="0.9" />
<path d="M266.0 1077.5 L275.5 1071.7 L303.8 1113.6 L295.9 1121.5 Z" fill="#fff" stroke="#1d1b1b" stroke-width="1.2" stroke-linejoin="round" />
<line x1="270.0" y1="1080.0" x2="297.0" y2="1118.0" stroke="#1d1b1b" stroke-width="0.9" />
<path d="M282.5 1126.6 L300.8 1121.1 L297.8 1110.9 L279.5 1116.4 A5.3 5.3 0 0 0 282.5 1126.6 Z" fill="#fff" stroke="#1d1b1b" stroke-width="1.2" stroke-linejoin="round"/>
<ellipse cx="299.3" cy="1116.0" rx="4.4" ry="5.3" transform="rotate(-15 299.3 1116.0)" fill="#fff" stroke="#1d1b1b" stroke-width="1.2"/>
<path d="M403.5 1173.3 L451.8 1155.2 L470.0 1150.0 L470.0 1172.0 L461.4 1173.3 L409.9 1192.4 L404.0 1186.0 Z" fill="#fff" stroke="#1d1b1b" stroke-width="1.2" stroke-linejoin="round" />
<ellipse cx="417.3" cy="1179.6" rx="3.3" ry="4.1" transform="rotate(0 417.3 1179.6)" fill="#fff" stroke="#1d1b1b" stroke-width="0.9"/>
<path d="M441.2 1157 q8 4 9 20" fill="none" stroke="#1d1b1b" stroke-width="0.9"/>
<path d="M446 1155 q8 4 9 20" fill="none" stroke="#1d1b1b" stroke-width="0.9"/>
<path d="M404.6 1215.2 L470.0 1214.7 L470.0 1234.8 L406.2 1234.8 L402.0 1225.0 Z" fill="#fff" stroke="#1d1b1b" stroke-width="1.2" stroke-linejoin="round" />
<ellipse cx="417.3" cy="1224.2" rx="3.3" ry="4.1" transform="rotate(0 417.3 1224.2)" fill="#fff" stroke="#1d1b1b" stroke-width="0.9"/>
<line x1="423.2" y1="1192.0" x2="423.2" y2="1215.2" stroke="#1d1b1b" stroke-width="1.2" />
</g>
<circle cx="317.6" cy="1146" r="147.3" fill="none" stroke="#1d1b1b" stroke-width="1.2" stroke-dasharray="9 5.5"/>
<rect x="190" y="1232" width="95" height="46" fill="#fff"/>
<text x="198.0" y="1265.4" font-size="21" font-weight="bold" text-anchor="start" textLength="80.3" lengthAdjust="spacingAndGlyphs" fill="#1d1b1b" >M 1137</text>
<path d="M194.0 1275.1 L281.2 1275.1 L306.0 1231.4" fill="none" stroke="#1d1b1b" stroke-width="1.0" stroke-linejoin="round" />
</svg>
</body></html>
